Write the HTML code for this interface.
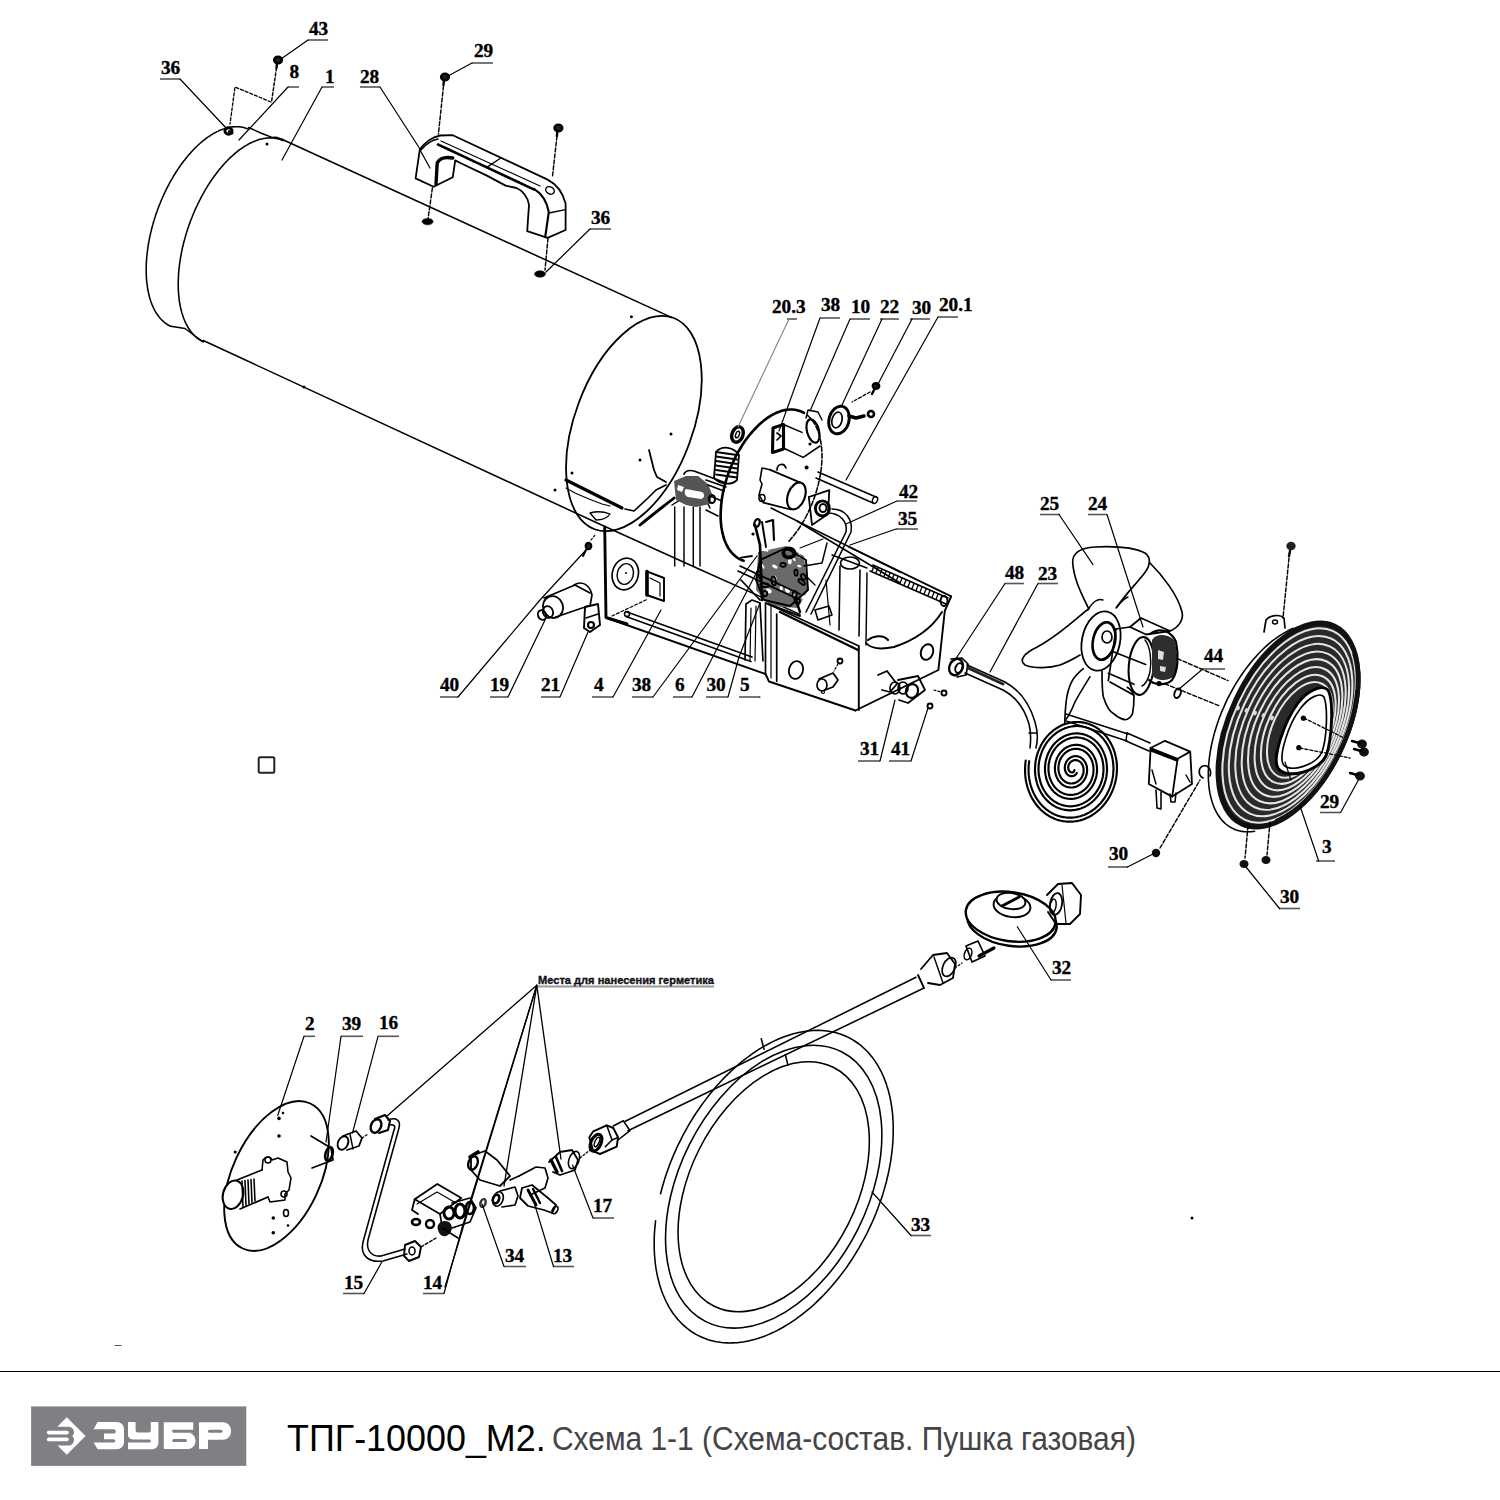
<!DOCTYPE html>
<html><head><meta charset="utf-8">
<style>
html,body{margin:0;padding:0;background:#fff;}
body{width:1500px;height:1500px;position:relative;overflow:hidden;font-family:"Liberation Sans",sans-serif;}
#hr{position:absolute;left:0;top:1370.5px;width:1500px;height:1.6px;background:#000;}
#title{position:absolute;left:288px;top:1415px;white-space:nowrap;}
#t1{position:absolute;left:-1px;top:1.5px;font-size:37.5px;color:#000;transform-origin:0 0;transform:scaleX(0.957);}
#t2{position:absolute;left:264px;top:5px;font-size:32.8px;color:#444;transform-origin:0 0;transform:scaleX(0.913);}
svg{position:absolute;left:0;top:0;}
</style></head><body>
<svg id="logo" width="1500" height="1500" viewBox="0 0 1500 1500">
  <rect x="31.1" y="1406.4" width="215.2" height="59.5" fill="#807f84"/>
  <g fill="#fff">
    <!-- diamond icon -->
    <path d="M66.8,1417.2 L85.6,1436 L66.8,1454.8 L56.8,1444.8 L56.8,1427.2 Z"/>
  </g>
  <path fill="#807f84" d="M50,1426.8 H68.8 C75,1426.8 75.3,1436 71.6,1436 C75.3,1436 75,1445.6 68.8,1445.6 H50 Z"/>
  <g fill="#fff">
    <rect x="46.8" y="1430.8" width="22" height="3.6" rx="1.8"/>
    <rect x="46.8" y="1437.6" width="22" height="3.6" rx="1.8"/>
    <!-- З -->
    <path d="M97.6,1422 H117 A7,7 0 0 1 124,1429 V1442.2 A7,7 0 0 1 117,1449.2 H97.6 L93.6,1442.4 V1429.2 Z"/>
    <!-- У -->
    <path d="M128.8,1422 H134.8 Q135.6,1422 135.6,1422.8 V1422 H150.8 H157.6 Q158.4,1422 158.4,1422.8 V1443 A6.2,6.2 0 0 1 152.2,1449.2 H128.8 Q128,1449.2 128,1448.4 V1422.8 Q128,1422 128.8,1422 Z"/>
    <!-- Б -->
    <path d="M164.6,1422.25 H193.25 V1432.75 H188 A7.5,7.5 0 0 1 195.5,1440.25 V1441.5 A7.5,7.5 0 0 1 188,1449 H164.6 Q163.75,1449 163.75,1448.2 V1423.1 Q163.75,1422.25 164.6,1422.25 Z"/>
    <!-- Р -->
    <path d="M199.8,1422.25 H223 A8,8 0 0 1 231,1430.25 V1431.75 A8,8 0 0 1 223,1439.75 H208 V1448.2 Q208,1449 207.2,1449 H199.8 Q199,1449 199,1448.2 V1423.1 Q199,1422.25 199.8,1422.25 Z"/>
  </g>
  <g fill="#807f84">
    <!-- З gaps -->
    <path d="M92,1429.2 H113.6 A2.2,2.2 0 0 1 113.6,1433.6 H104 V1439.2 H113.6 A1.6,1.6 0 0 1 113.6,1442.4 H92 Z"/>
    <!-- У gaps -->
    <path d="M135.6,1421 H150.8 V1430.4 Q150.8,1432.4 148.8,1432.4 H137.6 Q135.6,1432.4 135.6,1430.4 Z"/>
    <path d="M126,1439.6 H149.4 A1.4,1.4 0 0 1 149.4,1442.4 H126 Z"/>
    <path d="M127.5,1440 L127.5,1433.6 A6.2,6.2 0 0 0 133.7,1440 Z"/>
    <!-- Б gaps -->
    <path d="M172.25,1429.75 H197 V1432.75 H173.75 A1.5,1.5 0 0 1 172.25,1431.25 Z"/>
    <rect x="172.25" y="1439" width="14.75" height="3" rx="1.5"/>
    <!-- Р gap -->
    <rect x="208" y="1429.75" width="14.5" height="3" rx="1.5"/>
  </g>
</svg>
<svg id="dia" width="1500" height="1370" viewBox="0 0 1500 1370">
<g>
<ellipse cx="633.9" cy="423.5" rx="112.8" ry="58.9" transform="rotate(-69.6 633.9 423.5)" fill="none" stroke="#000" stroke-width="1.7999999999999998"/>
<polyline points="203.3,341.8 202.8,341.6 202.4,341.4 201.9,341.2 201.5,340.9 201.1,340.7 200.6,340.4 200.2,340.2 199.8,339.9 199.4,339.6 199,339.4 198.5,339.1 198.1,338.8 197.7,338.5 197.3,338.2 196.9,337.8 196.5,337.5 196.1,337.2 195.7,336.8 195.4,336.5 195,336.1 194.6,335.8 194.2,335.4 193.9,335 193.5,334.6 193.1,334.2 192.8,333.8 192.4,333.4 192.1,333 191.7,332.6 191.4,332.2 191,331.7 190.7,331.3 190.4,330.8 190,330.4 189.7,329.9 189.4,329.5 189.1,329 188.8,328.5 188.4,328 188.1,327.5 187.8,327 187.6,326.5 187.3,326 187,325.5 186.7,325 186.4,324.4 186.1,323.9 185.9,323.3 185.6,322.8 185.3,322.2 185.1,321.7 184.8,321.1 184.6,320.5 184.4,319.9 184.1,319.3 183.9,318.7 183.6,318.1 183.4,317.5 183.2,316.9 183,316.3 182.8,315.7 182.6,315.1 182.4,314.4 182.2,313.8 182,313.1 181.8,312.5 181.6,311.8 181.4,311.2 181.3,310.5 181.1,309.8 180.9,309.1 180.8,308.5 180.6,307.8 180.5,307.1 180.3,306.4 180.2,305.7 180,305 179.9,304.3 179.8,303.5 179.7,302.8 179.5,302.1 179.4,301.4 179.3,300.6 179.2,299.9 179.1,299.1 179,298.4 179,297.6 178.9,296.9 178.8,296.1 178.7,295.3 178.7,294.6 178.6,293.8 178.5,293 178.5,292.2 178.4,291.4 178.4,290.7 178.4,289.9 178.3,289.1 178.3,288.3 178.3,287.5 178.3,286.6 178.2,285.8 178.2,285 178.2,284.2 178.2,283.4 178.2,282.5 178.3,281.7 178.3,280.9 178.3,280 178.3,279.2 178.4,278.4 178.4,277.5 178.4,276.7 178.5,275.8 178.5,275 178.6,274.1 178.6,273.3 178.7,272.4 178.8,271.5 178.9,270.7 178.9,269.8 179,268.9 179.1,268.1 179.2,267.2 179.3,266.3 179.4,265.5 179.5,264.6 179.6,263.7 179.8,262.8 179.9,261.9 180,261 180.2,260.2 180.3,259.3 180.4,258.4 180.6,257.5 180.7,256.6 180.9,255.7 181.1,254.8 181.2,253.9 181.4,253 181.6,252.1 181.8,251.2 182,250.3 182.1,249.4 182.3,248.5 182.5,247.6 182.7,246.7 183,245.8 183.2,244.9 183.4,244 183.6,243.1 183.8,242.2 184.1,241.3 184.3,240.4 184.6,239.5 184.8,238.6 185.1,237.7 185.3,236.8 185.6,235.9 185.8,235 186.1,234.1 186.4,233.2 186.6,232.3 186.9,231.4 187.2,230.5 187.5,229.6 187.8,228.7 188.1,227.8 188.4,226.9 188.7,226 189,225.1 189.3,224.3 189.7,223.4 190,222.5 190.3,221.6 190.6,220.7 191,219.8 191.3,218.9 191.7,218.1 192,217.2 192.4,216.3 192.7,215.4 193.1,214.6 193.4,213.7 193.8,212.8 194.2,212 194.5,211.1 194.9,210.2 195.3,209.4 195.7,208.5 196.1,207.7 196.5,206.8 196.9,206 197.3,205.1 197.7,204.3 198.1,203.4 198.5,202.6 198.9,201.8 199.3,200.9 199.7,200.1 200.2,199.3 200.6,198.4 201,197.6 201.4,196.8 201.9,196 202.3,195.2 202.8,194.4 203.2,193.6 203.7,192.8 204.1,192 204.6,191.2 205,190.4 205.5,189.6 205.9,188.8 206.4,188.1 206.9,187.3 207.3,186.5 207.8,185.8 208.3,185 208.8,184.2 209.3,183.5 209.7,182.8 210.2,182 210.7,181.3 211.2,180.5 211.7,179.8 212.2,179.1 212.7,178.4 213.2,177.7 213.7,177 214.2,176.2 214.7,175.5 215.2,174.9 215.8,174.2 216.3,173.5 216.8,172.8 217.3,172.1 217.8,171.5 218.4,170.8 218.9,170.1 219.4,169.5 219.9,168.8 220.5,168.2 221,167.6 221.5,166.9 222.1,166.3 222.6,165.7 223.1,165.1 223.7,164.5 224.2,163.9 224.8,163.3 225.3,162.7 225.9,162.1 226.4,161.5 227,161 227.5,160.4 228.1,159.8 228.6,159.3 229.2,158.7 229.7,158.2 230.3,157.7 230.8,157.1 231.4,156.6 232,156.1 232.5,155.6 233.1,155.1 233.6,154.6 234.2,154.1 234.8,153.6 235.3,153.2 235.9,152.7 236.5,152.2 237,151.8 237.6,151.3 238.1,150.9 238.7,150.4 239.3,150 239.8,149.6 240.4,149.2 241,148.8 241.6,148.4 242.1,148 242.7,147.6 243.3,147.2 243.8,146.9 244.4,146.5 245,146.1 245.5,145.8 246.1,145.4 246.7,145.1 247.2,144.8 247.8,144.5 248.4,144.1 248.9,143.8 249.5,143.5 250.1,143.3 250.6,143 251.2,142.7 251.7,142.4 252.3,142.2 252.9,141.9 253.4,141.7 254,141.4 254.6,141.2 255.1,141 255.7,140.8 256.2,140.6 256.8,140.4 257.3,140.2 257.9,140 258.4,139.8 259,139.6 259.5,139.5 260.1,139.3 260.6,139.2 261.2,139 261.7,138.9 262.3,138.8 262.8,138.7 263.4,138.6 263.9,138.5 264.4,138.4 265,138.3 265.5,138.2 266,138.2 266.6,138.1 267.1,138.1 267.6,138 268.2,138 268.7,137.9 269.2,137.9 269.7,137.9 270.2,137.9 270.8,137.9 271.3,137.9 271.8,137.9 272.3,138 272.8,138 273.3,138 273.8,138.1 274.3,138.2 274.8,138.2 275.3,138.3 275.8,138.4 276.3,138.5 276.8,138.6 277.3,138.7 277.7,138.8 278.2,138.9 278.7,139 279.2,139.2 279.6,139.3 280.1,139.5 280.6,139.6 281,139.8 281.5,140 282,140.2 282.4,140.4 282.9,140.6" fill="none" stroke="#000" stroke-width="1.56" stroke-linejoin="round" stroke-linecap="round"/>
<polyline points="170.7,326.3 170.3,326.1 169.8,325.9 169.4,325.7 169,325.5 168.6,325.2 168.1,325 167.7,324.7 167.3,324.5 166.9,324.2 166.5,323.9 166.1,323.6 165.7,323.3 165.3,323 164.9,322.7 164.5,322.4 164.1,322.1 163.7,321.8 163.3,321.4 163,321.1 162.6,320.7 162.2,320.4 161.8,320 161.5,319.7 161.1,319.3 160.8,318.9 160.4,318.5 160.1,318.1 159.7,317.7 159.4,317.3 159,316.9 158.7,316.5 158.4,316 158.1,315.6 157.7,315.1 157.4,314.7 157.1,314.2 156.8,313.8 156.5,313.3 156.2,312.8 155.9,312.3 155.6,311.8 155.3,311.3 155,310.8 154.7,310.3 154.5,309.8 154.2,309.3 153.9,308.8 153.7,308.2 153.4,307.7 153.2,307.1 152.9,306.6 152.7,306 152.4,305.5 152.2,304.9 151.9,304.3 151.7,303.7 151.5,303.1 151.3,302.6 151.1,302 150.8,301.3 150.6,300.7 150.4,300.1 150.2,299.5 150,298.9 149.9,298.2 149.7,297.6 149.5,297 149.3,296.3 149.2,295.7 149,295 148.8,294.3 148.7,293.7 148.5,293 148.4,292.3 148.2,291.6 148.1,290.9 148,290.2 147.8,289.5 147.7,288.8 147.6,288.1 147.5,287.4 147.4,286.7 147.3,286 147.2,285.3 147.1,284.5 147,283.8 146.9,283.1 146.8,282.3 146.7,281.6 146.7,280.8 146.6,280.1 146.5,279.3 146.5,278.5 146.4,277.8 146.4,277 146.3,276.2 146.3,275.4 146.3,274.7 146.3,273.9 146.2,273.1 146.2,272.3 146.2,271.5 146.2,270.7 146.2,269.9 146.2,269.1 146.2,268.3 146.2,267.5 146.2,266.7 146.2,265.8 146.3,265 146.3,264.2 146.3,263.4 146.4,262.5 146.4,261.7 146.5,260.9 146.5,260 146.6,259.2 146.7,258.4 146.7,257.5 146.8,256.7 146.9,255.8 147,255 147.1,254.1 147.2,253.3 147.2,252.4 147.4,251.6 147.5,250.7 147.6,249.8 147.7,249 147.8,248.1 147.9,247.2 148.1,246.4 148.2,245.5 148.3,244.6 148.5,243.8 148.6,242.9 148.8,242 149,241.1 149.1,240.3 149.3,239.4 149.5,238.5 149.6,237.6 149.8,236.7 150,235.9 150.2,235 150.4,234.1 150.6,233.2 150.8,232.3 151,231.5 151.2,230.6 151.5,229.7 151.7,228.8 151.9,227.9 152.1,227 152.4,226.2 152.6,225.3 152.9,224.4 153.1,223.5 153.4,222.6 153.6,221.7 153.9,220.9 154.2,220 154.4,219.1 154.7,218.2 155,217.3 155.3,216.5 155.6,215.6 155.8,214.7 156.1,213.8 156.4,213 156.7,212.1 157.1,211.2 157.4,210.3 157.7,209.5 158,208.6 158.3,207.7 158.7,206.9 159,206 159.3,205.1 159.7,204.3 160,203.4 160.4,202.6 160.7,201.7 161.1,200.9 161.4,200 161.8,199.2 162.2,198.3 162.5,197.5 162.9,196.6 163.3,195.8 163.7,195 164,194.1 164.4,193.3 164.8,192.5 165.2,191.6 165.6,190.8 166,190 166.4,189.2 166.8,188.4 167.2,187.5 167.7,186.7 168.1,185.9 168.5,185.1 168.9,184.3 169.3,183.5 169.8,182.7 170.2,182 170.6,181.2 171.1,180.4 171.5,179.6 172,178.8 172.4,178.1 172.9,177.3 173.3,176.5 173.8,175.8 174.2,175 174.7,174.3 175.2,173.5 175.6,172.8 176.1,172 176.6,171.3 177,170.6 177.5,169.8 178,169.1 178.5,168.4 179,167.7 179.5,167 180,166.3 180.4,165.6 180.9,164.9 181.4,164.2 181.9,163.5 182.4,162.8 182.9,162.2 183.4,161.5 183.9,160.8 184.5,160.2 185,159.5 185.5,158.9 186,158.2 186.5,157.6 187,157 187.5,156.3 188.1,155.7 188.6,155.1 189.1,154.5 189.6,153.9 190.2,153.3 190.7,152.7 191.2,152.1 191.8,151.5 192.3,150.9 192.8,150.4 193.4,149.8 193.9,149.2 194.4,148.7 195,148.1 195.5,147.6 196.1,147.1 196.6,146.5 197.2,146 197.7,145.5 198.2,145 198.8,144.5 199.3,144 199.9,143.5 200.4,143 201,142.5 201.5,142.1 202.1,141.6 202.6,141.1 203.2,140.7 203.7,140.2 204.3,139.8 204.9,139.4 205.4,138.9 206,138.5 206.5,138.1 207.1,137.7 207.6,137.3 208.2,136.9 208.7,136.5 209.3,136.2 209.9,135.8 210.4,135.4 211,135.1 211.5,134.7 212.1,134.4 212.6,134 213.2,133.7 213.7,133.4 214.3,133.1 214.9,132.8 215.4,132.5 216,132.2 216.5,131.9 217.1,131.6 217.6,131.4 218.2,131.1 218.7,130.8 219.3,130.6 219.8,130.3 220.4,130.1 220.9,129.9 221.5,129.7 222,129.5 222.6,129.3 223.1,129.1 223.6,128.9 224.2,128.7 224.7,128.5 225.3,128.4 225.8,128.2 226.3,128.1 226.9,127.9 227.4,127.8 228,127.6 228.5,127.5 229,127.4 229.5,127.3 230.1,127.2 230.6,127.1 231.1,127 231.6,127 232.2,126.9 232.7,126.9 233.2,126.8 233.7,126.8 234.2,126.7 234.8,126.7 235.3,126.7 235.8,126.7 236.3,126.7 236.8,126.7 237.3,126.7 237.8,126.7 238.3,126.7 238.8,126.8 239.3,126.8 239.8,126.8 240.3,126.9 240.7,127 241.2,127 241.7,127.1 242.2,127.2 242.7,127.3 243.1,127.4 243.6,127.5 244.1,127.6 244.6,127.8 245,127.9 245.5,128 245.9,128.2 246.4,128.4 246.9,128.5 247.3,128.7 247.8,128.9 248.2,129.1 248.6,129.3" fill="none" stroke="#000" stroke-width="1.56" stroke-linejoin="round" stroke-linecap="round"/>
<polyline points="248.6,127.5 262,133.5 272,137.4 276,137.2 283,139.5" fill="none" stroke="#000" stroke-width="1.44" stroke-linejoin="round" stroke-linecap="round"/>
<polyline points="170.7,326.3 185,328.5 195,336 203.3,341.8" fill="none" stroke="#000" stroke-width="1.44" stroke-linejoin="round" stroke-linecap="round"/>
<line x1="283" y1="139.8" x2="672" y2="317.6" stroke="#000" stroke-width="1.56" stroke-linecap="round"/>
<polyline points="203.3,340.5 600,524.3 700,569.5 800,614.4" fill="none" stroke="#000" stroke-width="1.56" stroke-linejoin="round" stroke-linecap="round"/>
<circle cx="631.4" cy="316.7" r="1.5" fill="#000"/>
<circle cx="304" cy="387" r="1.5" fill="#000"/>
<circle cx="267" cy="144" r="1.5" fill="#000"/>
<circle cx="232" cy="133" r="1.5" fill="#000"/>
<circle cx="671" cy="434" r="1.5" fill="#000"/>
<circle cx="640" cy="460" r="1.5" fill="#000"/>
<circle cx="572" cy="473" r="1.5" fill="#000"/>
<circle cx="555" cy="490" r="1.5" fill="#000"/>
<circle cx="1192" cy="1218" r="1.5" fill="#000"/>
<polyline points="649,450 654,470 657,477 666,482" fill="none" stroke="#000" stroke-width="1.7999999999999998" stroke-linejoin="round" stroke-linecap="round"/>
<polyline points="566,480 622,508" fill="none" stroke="#000" stroke-width="3.12" stroke-linejoin="round" stroke-linecap="round"/>
<polyline points="625,509 634,511 648,498 656,490 666,485" fill="none" stroke="#000" stroke-width="1.68" stroke-linejoin="round" stroke-linecap="round"/>
<polyline points="566,488 575,493 589,499 602,504 610,506" fill="none" stroke="#000" stroke-width="1.2" stroke-linejoin="round" stroke-linecap="round"/>
<path d="M590,513 Q600,510 610,514 Q606,520 596,520 Z" fill="none" stroke="#000" stroke-width="1.32" stroke-linejoin="round" stroke-linecap="round"/>
<path d="M415.6,178.4 L419.8,149.6 C424,143 432,137 440,135.5 L452.8,135.2 L547.6,179.6 C556,184 563,193 565.6,203.6 L565.6,230 L547.6,237.8 L527.2,231.2 L529,204.8 C528,197 522,190 516.4,188 L505.6,185.6 L486.4,175.4 L462.4,164 L455.2,160.4 L452.8,177.2 L433.6,186.8 Z" fill="none" stroke="#000" stroke-width="1.7999999999999998" stroke-linejoin="round" stroke-linecap="round"/>
<path d="M436,184.4 L437.2,162.8 C440,158 444,156.5 452.8,158" fill="none" stroke="#000" stroke-width="3.36" stroke-linejoin="round" stroke-linecap="round"/>
<path d="M421,150 C426,144 432,140 438,139" fill="none" stroke="#000" stroke-width="1.44" stroke-linejoin="round" stroke-linecap="round"/>
<polyline points="438,144.5 534,189.5" fill="none" stroke="#000" stroke-width="2.64" stroke-dasharray="2,1.5" stroke-linejoin="round" stroke-linecap="round"/>
<polyline points="441,141 540,186" fill="none" stroke="#000" stroke-width="1.2" stroke-linejoin="round" stroke-linecap="round"/>
<line x1="486.4" y1="167.6" x2="500.8" y2="158" stroke="#000" stroke-width="1.44" stroke-linecap="round"/>
<ellipse cx="550" cy="190.4" rx="4.5" ry="3.5" transform="rotate(30 550 190.4)" fill="none" stroke="#000" stroke-width="1.44"/>
<path d="M534.4,189.2 C542,194 547,202 548.8,212 L545.2,237.2" fill="none" stroke="#000" stroke-width="2.16" stroke-linejoin="round" stroke-linecap="round"/>
<line x1="548.8" y1="213" x2="565.6" y2="209.6" stroke="#000" stroke-width="1.44" stroke-linecap="round"/>
<line x1="419.8" y1="149.6" x2="430" y2="168" stroke="#000" stroke-width="1.2" stroke-linecap="round"/>
<ellipse cx="278" cy="60" rx="3.8" ry="3.2" fill="#222" stroke="#000" stroke-width="2.64"/>
<polyline points="277,63 276.5,68" fill="none" stroke="#000" stroke-width="2.4" stroke-linejoin="round" stroke-linecap="round"/>
<ellipse cx="445" cy="77" rx="3.8" ry="3.2" fill="#222" stroke="#000" stroke-width="2.64"/>
<polyline points="444,80 443.5,85" fill="none" stroke="#000" stroke-width="2.4" stroke-linejoin="round" stroke-linecap="round"/>
<ellipse cx="558.4" cy="128" rx="3.8" ry="3.2" fill="#222" stroke="#000" stroke-width="2.64"/>
<polyline points="557.4,131 556.9,136" fill="none" stroke="#000" stroke-width="2.4" stroke-linejoin="round" stroke-linecap="round"/>
<polyline points="276.5,68 271.5,102" fill="none" stroke="#000" stroke-width="1.44" stroke-dasharray="3,2" stroke-linejoin="round" stroke-linecap="round"/>
<polyline points="271,102 235,87 230,124" fill="none" stroke="#000" stroke-width="1.32" stroke-dasharray="3,2" stroke-linejoin="round" stroke-linecap="round"/>
<polyline points="443.5,86 438.4,134" fill="none" stroke="#000" stroke-width="1.44" stroke-dasharray="4,2" stroke-linejoin="round" stroke-linecap="round"/>
<polyline points="557,136 552.4,177.2" fill="none" stroke="#000" stroke-width="1.44" stroke-dasharray="4,2" stroke-linejoin="round" stroke-linecap="round"/>
<polyline points="432.4,188 428,219" fill="none" stroke="#000" stroke-width="1.44" stroke-dasharray="4,2" stroke-linejoin="round" stroke-linecap="round"/>
<polyline points="548,238 545,270" fill="none" stroke="#000" stroke-width="1.44" stroke-dasharray="4,2" stroke-linejoin="round" stroke-linecap="round"/>
<ellipse cx="427.6" cy="221.6" rx="5.5" ry="3.2" fill="#000" stroke="#000" stroke-width="0.6"/>
<ellipse cx="540" cy="274" rx="5.5" ry="3.2" fill="#000" stroke="#000" stroke-width="0.6"/>
<ellipse cx="228.5" cy="131" rx="3.6" ry="3.2" fill="none" stroke="#000" stroke-width="2.88"/>
<circle cx="229.5" cy="131.5" r="1.6" fill="#000"/>
<line x1="160" y1="79" x2="180" y2="79" stroke="#555" stroke-width="1.6"/>
<polyline points="180,79 227,129" fill="none" stroke="#000" stroke-width="1.2" stroke-linejoin="round" stroke-linecap="round"/>
<line x1="308" y1="40" x2="328" y2="40" stroke="#555" stroke-width="1.6"/>
<polyline points="308,40 281,59" fill="none" stroke="#000" stroke-width="1.2" stroke-linejoin="round" stroke-linecap="round"/>
<line x1="288" y1="87" x2="299" y2="87" stroke="#555" stroke-width="1.6"/>
<polyline points="288,87 239,140" fill="none" stroke="#000" stroke-width="1.2" stroke-linejoin="round" stroke-linecap="round"/>
<line x1="322" y1="87" x2="334" y2="87" stroke="#555" stroke-width="1.6"/>
<polyline points="322,87 282,160" fill="none" stroke="#000" stroke-width="1.2" stroke-linejoin="round" stroke-linecap="round"/>
<line x1="360" y1="87" x2="380" y2="87" stroke="#555" stroke-width="1.6"/>
<polyline points="380,87 420,149" fill="none" stroke="#000" stroke-width="1.2" stroke-linejoin="round" stroke-linecap="round"/>
<line x1="472" y1="63" x2="493" y2="63" stroke="#555" stroke-width="1.6"/>
<polyline points="472,63 448,76" fill="none" stroke="#000" stroke-width="1.2" stroke-linejoin="round" stroke-linecap="round"/>
<line x1="590" y1="229" x2="611" y2="229" stroke="#555" stroke-width="1.6"/>
<polyline points="590,229 546,272" fill="none" stroke="#000" stroke-width="1.2" stroke-linejoin="round" stroke-linecap="round"/>
<polyline points="743.6,560.7 741.3,559.9 739.1,558.8 737,557.5 735.1,556 733.2,554.3 731.4,552.4 729.8,550.3 728.3,548 726.9,545.5 725.6,542.8 724.5,540 723.5,537 722.7,533.9 722,530.6 721.4,527.2 721,523.6 720.7,520 720.6,516.2 720.7,512.4 720.9,508.5 721.2,504.5 721.7,500.4 722.3,496.3 723.1,492.2 724,488.1 725.1,483.9 726.3,479.8 727.6,475.7 729.1,471.6 730.6,467.5 732.4,463.5 734.2,459.6 736.1,455.7 738.1,452 740.3,448.3 742.5,444.7 744.8,441.3 747.2,438 749.7,434.8 752.2,431.8 754.8,429 757.4,426.3 760.1,423.8 762.8,421.5 765.5,419.3 768.2,417.4 771,415.6 773.7,414.1 776.5,412.8 779.2,411.7 781.9,410.8 784.6,410.1 787.3,409.7 789.8,409.5 792.4,409.5 794.9,409.7 797.3,410.2 799.6,410.9 801.8,411.8 804,412.9" fill="none" stroke="#000" stroke-width="2.64" stroke-linejoin="round" stroke-linecap="round"/>
<polyline points="807.2,415.2 808.4,416.2 809.5,417.3 810.6,418.4 811.7,419.7 812.7,421 813.6,422.3 814.6,423.8 815.4,425.3 816.2,426.9 817,428.6 817.7,430.3 818.3,432.1 819,433.9 819.5,435.8 820,437.8 820.4,439.8 820.8,441.8 821.2,444 821.4,446.1 821.7,448.3 821.8,450.6 821.9,452.8 822,455.2 822,457.5 821.9,459.9 821.8,462.3 821.6,464.7 821.4,467.2 821.1,469.7 820.7,472.2 820.3,474.7 819.9,477.2 819.4,479.8 818.8,482.3 818.2,484.9 817.5,487.4 816.8,490 816,492.5 815.2,495.1 814.4,497.6 813.4,500.1 812.5,502.6 811.5,505.1 810.4,507.5 809.3,509.9 808.2,512.4 807,514.7 805.8,517.1 804.5,519.4 803.2,521.6 801.9,523.9 800.5,526.1 799.1,528.2 797.7,530.3 796.2,532.3 794.7,534.3 793.2,536.3 791.6,538.1 790.1,540 788.5,541.7" fill="none" stroke="#000" stroke-width="1.56" stroke-dasharray="5,2" stroke-linejoin="round" stroke-linecap="round"/>
<path d="M716,452 C722,445 734,447 739,455 L737,480 C731,486 720,484 714,478 Z" fill="none" stroke="#000" stroke-width="1.7999999999999998" stroke-linejoin="round" stroke-linecap="round"/>
<line x1="716" y1="452" x2="737" y2="455" stroke="#000" stroke-width="1.92" stroke-linecap="round"/>
<line x1="716" y1="456.5" x2="737" y2="459.5" stroke="#000" stroke-width="1.92" stroke-linecap="round"/>
<line x1="716" y1="461" x2="737" y2="464" stroke="#000" stroke-width="1.92" stroke-linecap="round"/>
<line x1="716" y1="465.5" x2="737" y2="468.5" stroke="#000" stroke-width="1.92" stroke-linecap="round"/>
<line x1="716" y1="470" x2="737" y2="473" stroke="#000" stroke-width="1.92" stroke-linecap="round"/>
<line x1="716" y1="474.5" x2="737" y2="477.5" stroke="#000" stroke-width="1.92" stroke-linecap="round"/>
<ellipse cx="737.5" cy="434.5" rx="5.5" ry="8" transform="rotate(20 737.5 434.5)" fill="none" stroke="#000" stroke-width="3.36"/>
<ellipse cx="737.5" cy="434.5" rx="1.8" ry="3.5" transform="rotate(20 737.5 434.5)" fill="none" stroke="#000" stroke-width="1.44"/>
<polyline points="773,428 783.5,424.5 783.5,449 772.5,452.5 773,428" fill="none" stroke="#000" stroke-width="3.12" stroke-linejoin="round" stroke-linecap="round"/>
<polyline points="777,433 781,436 777,440" fill="none" stroke="#000" stroke-width="1.68" stroke-linejoin="round" stroke-linecap="round"/>
<polyline points="783.5,424.5 802,432.4" fill="none" stroke="#000" stroke-width="1.56" stroke-linejoin="round" stroke-linecap="round"/>
<polyline points="783.9,448.3 803.2,457.4 820,446" fill="none" stroke="#000" stroke-width="1.56" stroke-linejoin="round" stroke-linecap="round"/>
<ellipse cx="813" cy="431" rx="6" ry="12" transform="rotate(-15 813 431)" fill="none" stroke="#000" stroke-width="2.16"/>
<polyline points="806,418 808,410 818,412 822,420" fill="none" stroke="#000" stroke-width="1.44" stroke-linejoin="round" stroke-linecap="round"/>
<circle cx="810" cy="444" r="1.6" fill="#000"/>
<ellipse cx="839" cy="420" rx="10" ry="14" transform="rotate(15 839 420)" fill="none" stroke="#000" stroke-width="2.88"/>
<ellipse cx="837" cy="420" rx="5" ry="8" transform="rotate(15 837 420)" fill="none" stroke="#000" stroke-width="1.68"/>
<polyline points="849,416 856,418 864,416" fill="none" stroke="#000" stroke-width="3.5999999999999996" stroke-linejoin="round" stroke-linecap="round"/>
<ellipse cx="876" cy="386" rx="3.2" ry="2.8" fill="#222" stroke="#000" stroke-width="2.4"/>
<polyline points="874,390 872,394" fill="none" stroke="#000" stroke-width="2.4" stroke-linejoin="round" stroke-linecap="round"/>
<polyline points="870,392 852,402" fill="none" stroke="#000" stroke-width="1.32" stroke-dasharray="3,2" stroke-linejoin="round" stroke-linecap="round"/>
<ellipse cx="871" cy="414" rx="3" ry="3" fill="none" stroke="#000" stroke-width="2.64"/>
<polyline points="770.3,469.8 799.8,482.3" fill="none" stroke="#000" stroke-width="1.7999999999999998" stroke-linejoin="round" stroke-linecap="round"/>
<polyline points="763.5,502.7 790.7,509.5" fill="none" stroke="#000" stroke-width="1.7999999999999998" stroke-linejoin="round" stroke-linecap="round"/>
<polyline points="770.3,469.8 762,468 760,480 762,484 759,495 763.5,502.7" fill="none" stroke="#000" stroke-width="1.56" stroke-linejoin="round" stroke-linecap="round"/>
<ellipse cx="796.4" cy="495.9" rx="8.5" ry="14" transform="rotate(20 796.4 495.9)" fill="none" stroke="#000" stroke-width="2.16"/>
<path d="M777,470 C777,464 784,462 786,468" fill="none" stroke="#000" stroke-width="1.68" stroke-linejoin="round" stroke-linecap="round"/>
<ellipse cx="762" cy="498" rx="3" ry="3.5" fill="none" stroke="#000" stroke-width="1.56"/>
<circle cx="806.6" cy="467.6" r="2" fill="#000"/>
<polyline points="818,472 876,497" fill="none" stroke="#000" stroke-width="1.56" stroke-linejoin="round" stroke-linecap="round"/>
<polyline points="816,478 873,503" fill="none" stroke="#000" stroke-width="1.56" stroke-linejoin="round" stroke-linecap="round"/>
<ellipse cx="875" cy="500" rx="2.5" ry="3.5" transform="rotate(20 875 500)" fill="none" stroke="#000" stroke-width="1.44"/>
<polyline points="808.8,497 829.3,490.2 828,514 812,525 808.8,497" fill="none" stroke="#000" stroke-width="1.7999999999999998" stroke-linejoin="round" stroke-linecap="round"/>
<ellipse cx="822.4" cy="508.4" rx="7" ry="7.5" fill="none" stroke="#000" stroke-width="2.88"/>
<ellipse cx="823" cy="508" rx="3.5" ry="4" fill="none" stroke="#000" stroke-width="1.92"/>
<path d="M828,513 C840,513 848,522 846,532 L806,612" fill="none" stroke="#000" stroke-width="1.56" stroke-linejoin="round" stroke-linecap="round"/>
<path d="M832,509 C846,509 853,520 851,532 L811,614" fill="none" stroke="#000" stroke-width="1.56" stroke-linejoin="round" stroke-linecap="round"/>
<polyline points="604.7,527 606,617.5 627,624" fill="none" stroke="#000" stroke-width="2.88" stroke-linejoin="round" stroke-linecap="round"/>
<polyline points="606.8,618 765.5,674 769,681.5 855.5,710.5" fill="none" stroke="#000" stroke-width="1.92" stroke-linejoin="round" stroke-linecap="round"/>
<polyline points="627,612 752,657" fill="none" stroke="#000" stroke-width="1.68" stroke-linejoin="round" stroke-linecap="round"/>
<polyline points="626,616.5 751,661.5" fill="none" stroke="#000" stroke-width="1.68" stroke-linejoin="round" stroke-linecap="round"/>
<ellipse cx="627" cy="614" rx="2.5" ry="2.5" fill="none" stroke="#000" stroke-width="1.44"/>
<polyline points="745,660 746,604 752,600 760,603 763,661" fill="none" stroke="#000" stroke-width="1.68" stroke-linejoin="round" stroke-linecap="round"/>
<polyline points="750,660 751,608" fill="none" stroke="#000" stroke-width="1.2" stroke-linejoin="round" stroke-linecap="round"/>
<polyline points="755,661 756,606" fill="none" stroke="#000" stroke-width="1.2" stroke-linejoin="round" stroke-linecap="round"/>
<polyline points="765.5,603 765.5,674" fill="none" stroke="#000" stroke-width="1.68" stroke-linejoin="round" stroke-linecap="round"/>
<polyline points="776.7,614 776.7,681.3" fill="none" stroke="#000" stroke-width="1.68" stroke-linejoin="round" stroke-linecap="round"/>
<polyline points="766,603 776.7,608 858.8,646" fill="none" stroke="#000" stroke-width="1.68" stroke-linejoin="round" stroke-linecap="round"/>
<polyline points="780,612 858,650" fill="none" stroke="#000" stroke-width="2.4" stroke-linejoin="round" stroke-linecap="round"/>
<polyline points="771,606 771,678" fill="none" stroke="#000" stroke-width="1.2" stroke-linejoin="round" stroke-linecap="round"/>
<polyline points="858.8,646 858.8,710" fill="none" stroke="#000" stroke-width="1.92" stroke-linejoin="round" stroke-linecap="round"/>
<polyline points="855.5,710.5 938.4,670 944.8,610.8 951.2,596.4" fill="none" stroke="#000" stroke-width="1.92" stroke-linejoin="round" stroke-linecap="round"/>
<polyline points="848.8,546.8 951.2,596.4" fill="none" stroke="#000" stroke-width="1.7999999999999998" stroke-linejoin="round" stroke-linecap="round"/>
<polyline points="872.8,565 948,598" fill="none" stroke="#000" stroke-width="1.56" stroke-linejoin="round" stroke-linecap="round"/>
<polyline points="870,571 946,604" fill="none" stroke="#000" stroke-width="1.56" stroke-linejoin="round" stroke-linecap="round"/>
<line x1="874" y1="566" x2="872" y2="571" stroke="#000" stroke-width="1.32" stroke-linecap="round"/>
<line x1="878" y1="567.8" x2="876" y2="572.8" stroke="#000" stroke-width="1.32" stroke-linecap="round"/>
<line x1="882" y1="569.5" x2="880" y2="574.5" stroke="#000" stroke-width="1.32" stroke-linecap="round"/>
<line x1="886" y1="571.3" x2="884" y2="576.3" stroke="#000" stroke-width="1.32" stroke-linecap="round"/>
<line x1="890" y1="573" x2="888" y2="578" stroke="#000" stroke-width="1.32" stroke-linecap="round"/>
<line x1="894" y1="574.8" x2="892" y2="579.8" stroke="#000" stroke-width="1.32" stroke-linecap="round"/>
<line x1="898" y1="576.6" x2="896" y2="581.6" stroke="#000" stroke-width="1.32" stroke-linecap="round"/>
<line x1="902" y1="578.3" x2="900" y2="583.3" stroke="#000" stroke-width="1.32" stroke-linecap="round"/>
<line x1="906" y1="580.1" x2="904" y2="585.1" stroke="#000" stroke-width="1.32" stroke-linecap="round"/>
<line x1="910" y1="581.8" x2="908" y2="586.8" stroke="#000" stroke-width="1.32" stroke-linecap="round"/>
<line x1="914" y1="583.6" x2="912" y2="588.6" stroke="#000" stroke-width="1.32" stroke-linecap="round"/>
<line x1="918" y1="585.4" x2="916" y2="590.4" stroke="#000" stroke-width="1.32" stroke-linecap="round"/>
<line x1="922" y1="587.1" x2="920" y2="592.1" stroke="#000" stroke-width="1.32" stroke-linecap="round"/>
<line x1="926" y1="588.9" x2="924" y2="593.9" stroke="#000" stroke-width="1.32" stroke-linecap="round"/>
<line x1="930" y1="590.6" x2="928" y2="595.6" stroke="#000" stroke-width="1.32" stroke-linecap="round"/>
<line x1="934" y1="592.4" x2="932" y2="597.4" stroke="#000" stroke-width="1.32" stroke-linecap="round"/>
<line x1="938" y1="594.2" x2="936" y2="599.2" stroke="#000" stroke-width="1.32" stroke-linecap="round"/>
<line x1="942" y1="595.9" x2="940" y2="600.9" stroke="#000" stroke-width="1.32" stroke-linecap="round"/>
<ellipse cx="944" cy="601" rx="3.5" ry="5" fill="none" stroke="#000" stroke-width="1.92"/>
<path d="M866,643 C872,650 884,649 894,647 C915,640 932,628 942,612" fill="none" stroke="#000" stroke-width="1.92" stroke-linejoin="round" stroke-linecap="round"/>
<path d="M868,640 C873,636 883,634 888,640" fill="none" stroke="#000" stroke-width="2.16" stroke-linejoin="round" stroke-linecap="round"/>
<polyline points="839,630 840,566" fill="none" stroke="#000" stroke-width="1.56" stroke-linejoin="round" stroke-linecap="round"/>
<polyline points="859,636 860,570" fill="none" stroke="#000" stroke-width="1.56" stroke-linejoin="round" stroke-linecap="round"/>
<ellipse cx="850" cy="563" rx="9.5" ry="6" fill="none" stroke="#000" stroke-width="1.68"/>
<polyline points="826,580 830,625" fill="none" stroke="#000" stroke-width="1.2" stroke-linejoin="round" stroke-linecap="round"/>
<polyline points="867,573 866,645" fill="none" stroke="#000" stroke-width="1.44" stroke-linejoin="round" stroke-linecap="round"/>
<polyline points="832,555 867,568" fill="none" stroke="#000" stroke-width="1.44" stroke-linejoin="round" stroke-linecap="round"/>
<polyline points="815,610 829,606 832,615 818,620 815,610" fill="none" stroke="#000" stroke-width="1.56" stroke-linejoin="round" stroke-linecap="round"/>
<ellipse cx="927" cy="652" rx="6" ry="8" transform="rotate(20 927 652)" fill="none" stroke="#000" stroke-width="1.92"/>
<ellipse cx="796" cy="670" rx="7" ry="9" transform="rotate(15 796 670)" fill="none" stroke="#000" stroke-width="1.7999999999999998"/>
<ellipse cx="625.3" cy="574" rx="13" ry="16" transform="rotate(15 625.3 574)" fill="none" stroke="#000" stroke-width="1.68"/>
<ellipse cx="625.3" cy="574" rx="8" ry="10.5" transform="rotate(15 625.3 574)" fill="none" stroke="#000" stroke-width="1.44"/>
<circle cx="626" cy="573" r="1" fill="#000"/>
<polyline points="646.7,571.3 664,578 664,601 646.7,595 646.7,571.3" fill="none" stroke="#000" stroke-width="1.92" stroke-linejoin="round" stroke-linecap="round"/>
<polyline points="647,571.5 647,595" fill="none" stroke="#000" stroke-width="3.5999999999999996" stroke-linejoin="round" stroke-linecap="round"/>
<polyline points="650,578 660,583 660,596" fill="none" stroke="#000" stroke-width="1.2" stroke-linejoin="round" stroke-linecap="round"/>
<polyline points="612,616 648,599" fill="none" stroke="#000" stroke-width="1.2" stroke-dasharray="3,2" stroke-linejoin="round" stroke-linecap="round"/>
<line x1="674.7" y1="507" x2="674.7" y2="566" stroke="#000" stroke-width="1.44" stroke-linecap="round"/>
<line x1="684" y1="507" x2="684" y2="566" stroke="#000" stroke-width="1.44" stroke-linecap="round"/>
<line x1="693.3" y1="507" x2="693.3" y2="566" stroke="#000" stroke-width="1.44" stroke-linecap="round"/>
<line x1="700" y1="507" x2="700" y2="566" stroke="#000" stroke-width="1.44" stroke-linecap="round"/>
<polyline points="672,505 690,494 704,496 710,508" fill="none" stroke="#000" stroke-width="1.44" stroke-linejoin="round" stroke-linecap="round"/>
<path d="M684,474 C686,470 690,470 694,471 L726,483" fill="none" stroke="#000" stroke-width="1.68" stroke-linejoin="round" stroke-linecap="round"/>
<path d="M674,481 L686,476 L698,476 L708,484 L712,494 L710,504 L696,507 L686,505 L676,500 Z" fill="#555"/>
<path d="M686,489 L702,492 C705,494 705,498 701,499 L688,497 C684,496 684,490 686,489 Z" fill="#fff"/>
<path d="M678,485 L684,487 L682,492 L677,490 Z" fill="#fff"/>
<polyline points="706,480 726,487" fill="none" stroke="#000" stroke-width="1.68" stroke-linejoin="round" stroke-linecap="round"/>
<polyline points="708,485 724,491" fill="none" stroke="#000" stroke-width="1.68" stroke-linejoin="round" stroke-linecap="round"/>
<polyline points="710,496 722,501" fill="none" stroke="#000" stroke-width="1.44" stroke-linejoin="round" stroke-linecap="round"/>
<polyline points="706,510 718,516" fill="none" stroke="#000" stroke-width="1.56" stroke-linejoin="round" stroke-linecap="round"/>
<ellipse cx="712" cy="499" rx="3" ry="4" fill="none" stroke="#000" stroke-width="2.16"/>
<path d="M640,525 C652,515 664,506 674,498" fill="none" stroke="#000" stroke-width="2.88" stroke-linejoin="round" stroke-linecap="round"/>
<ellipse cx="553" cy="607" rx="10" ry="11" transform="rotate(-20 553 607)" fill="none" stroke="#000" stroke-width="1.7999999999999998"/>
<ellipse cx="548" cy="612" rx="5" ry="6" transform="rotate(-20 548 612)" fill="none" stroke="#000" stroke-width="1.7999999999999998"/>
<polyline points="544,598 575,585 590,593" fill="none" stroke="#000" stroke-width="1.68" stroke-linejoin="round" stroke-linecap="round"/>
<polyline points="553,618 588,606" fill="none" stroke="#000" stroke-width="1.68" stroke-linejoin="round" stroke-linecap="round"/>
<path d="M574,585 C582,580 590,585 592,595 L590,606" fill="none" stroke="#000" stroke-width="1.68" stroke-linejoin="round" stroke-linecap="round"/>
<ellipse cx="542" cy="615" rx="4" ry="5" transform="rotate(-20 542 615)" fill="none" stroke="#000" stroke-width="1.92"/>
<polyline points="585,607 598,604 600,625 590,632 584,628 585,607" fill="none" stroke="#000" stroke-width="1.92" stroke-linejoin="round" stroke-linecap="round"/>
<polyline points="586,618 598,614" fill="none" stroke="#000" stroke-width="1.44" stroke-linejoin="round" stroke-linecap="round"/>
<ellipse cx="591" cy="625" rx="3" ry="3" fill="none" stroke="#000" stroke-width="2.16"/>
<ellipse cx="588.5" cy="546" rx="2.8" ry="3.2" fill="#222" stroke="#000" stroke-width="2.16"/>
<polyline points="586,550 583,556" fill="none" stroke="#000" stroke-width="1.92" stroke-linejoin="round" stroke-linecap="round"/>
<polyline points="591,540 595,535" fill="none" stroke="#000" stroke-width="1.2" stroke-dasharray="2,2" stroke-linejoin="round" stroke-linecap="round"/>
<polyline points="878,675 887,671 897,684 890,692 882,690" fill="none" stroke="#000" stroke-width="1.7999999999999998" stroke-linejoin="round" stroke-linecap="round"/>
<ellipse cx="895" cy="688" rx="5" ry="6" fill="none" stroke="#000" stroke-width="1.68"/>
<ellipse cx="903" cy="688" rx="5" ry="6" fill="none" stroke="#000" stroke-width="1.68"/>
<polyline points="898,680 918,676 925,690 908,703 899,700" fill="none" stroke="#000" stroke-width="1.7999999999999998" stroke-linejoin="round" stroke-linecap="round"/>
<ellipse cx="912" cy="691" rx="6" ry="7" transform="rotate(20 912 691)" fill="none" stroke="#000" stroke-width="2.16"/>
<ellipse cx="944" cy="693" rx="2.5" ry="2.5" fill="none" stroke="#000" stroke-width="1.92"/>
<polyline points="934,690 941,692" fill="none" stroke="#000" stroke-width="1.2" stroke-dasharray="2,2" stroke-linejoin="round" stroke-linecap="round"/>
<ellipse cx="930" cy="706" rx="2.5" ry="2.5" fill="none" stroke="#000" stroke-width="1.92"/>
<ellipse cx="822" cy="685" rx="5" ry="6" fill="none" stroke="#000" stroke-width="1.68"/>
<polyline points="819,679 833,673 838,680 833,687 825,690" fill="none" stroke="#000" stroke-width="1.7999999999999998" stroke-linejoin="round" stroke-linecap="round"/>
<ellipse cx="823" cy="692" rx="1.5" ry="1.5" fill="none" stroke="#000" stroke-width="1.2"/>
<ellipse cx="840" cy="661" rx="2.5" ry="2.5" fill="none" stroke="#000" stroke-width="1.7999999999999998"/>
<polyline points="838,664 834,671" fill="none" stroke="#000" stroke-width="1.2" stroke-dasharray="2,2" stroke-linejoin="round" stroke-linecap="round"/>
<path d="M758,552 L786,546 L804,556 L808,590 L798,608 L770,606 L756,590 Z" fill="#6a6a6a"/>
<g fill="#fff">
<ellipse cx="787.4" cy="590.1" rx="2.9" ry="2.2" transform="rotate(67 787.4 590.1)"/>
<ellipse cx="800.6" cy="551.6" rx="2.3" ry="2.2" transform="rotate(58 800.6 551.6)"/>
<ellipse cx="799.6" cy="556.1" rx="2.3" ry="1.3" transform="rotate(49 799.6 556.1)"/>
<ellipse cx="785.3" cy="550.7" rx="1.9" ry="1.4" transform="rotate(82 785.3 550.7)"/>
<ellipse cx="793.7" cy="558.6" rx="2.9" ry="1.2" transform="rotate(56 793.7 558.6)"/>
<ellipse cx="765.6" cy="550.1" rx="3.1" ry="1.3" transform="rotate(19 765.6 550.1)"/>
<ellipse cx="803.2" cy="597.1" rx="2.0" ry="2.2" transform="rotate(49 803.2 597.1)"/>
<ellipse cx="789.8" cy="561.1" rx="3.2" ry="1.9" transform="rotate(87 789.8 561.1)"/>
<ellipse cx="799.3" cy="566.1" rx="2.2" ry="1.2" transform="rotate(13 799.3 566.1)"/>
<ellipse cx="762.9" cy="566.3" rx="2.6" ry="1.0" transform="rotate(61 762.9 566.3)"/>
<ellipse cx="774.9" cy="566.7" rx="3.0" ry="1.6" transform="rotate(28 774.9 566.7)"/>
<ellipse cx="781.2" cy="588.1" rx="1.6" ry="2.3" transform="rotate(2 781.2 588.1)"/>
<ellipse cx="793.0" cy="595.6" rx="1.5" ry="2.0" transform="rotate(33 793.0 595.6)"/>
<ellipse cx="785.5" cy="550.5" rx="1.6" ry="1.2" transform="rotate(86 785.5 550.5)"/>
<ellipse cx="768.6" cy="590.8" rx="3.2" ry="2.2" transform="rotate(31 768.6 590.8)"/>
<ellipse cx="775.6" cy="578.3" rx="2.9" ry="1.1" transform="rotate(67 775.6 578.3)"/>
</g>
<ellipse cx="794.7" cy="594.4" rx="2.1" ry="3.4" transform="rotate(8.2 794.7 594.4)" fill="none" stroke="#000" stroke-width="1.7999999999999998"/>
<ellipse cx="773.7" cy="581" rx="4.3" ry="2.2" transform="rotate(83.2 773.7 581)" fill="none" stroke="#000" stroke-width="1.7999999999999998"/>
<ellipse cx="783.1" cy="564.9" rx="2.8" ry="1.9" transform="rotate(7 783.1 564.9)" fill="none" stroke="#000" stroke-width="1.7999999999999998"/>
<ellipse cx="764.8" cy="585.2" rx="4.5" ry="1.8" transform="rotate(4.4 764.8 585.2)" fill="none" stroke="#000" stroke-width="1.7999999999999998"/>
<ellipse cx="803.4" cy="576.8" rx="3" ry="2" transform="rotate(53.5 803.4 576.8)" fill="none" stroke="#000" stroke-width="1.7999999999999998"/>
<ellipse cx="796" cy="572.6" rx="3.1" ry="1.6" transform="rotate(82.4 796 572.6)" fill="none" stroke="#000" stroke-width="1.7999999999999998"/>
<ellipse cx="759.5" cy="574.7" rx="4.1" ry="1.8" transform="rotate(65.8 759.5 574.7)" fill="none" stroke="#000" stroke-width="1.7999999999999998"/>
<ellipse cx="801.7" cy="582" rx="4" ry="1.7" transform="rotate(39.1 801.7 582)" fill="none" stroke="#000" stroke-width="1.7999999999999998"/>
<ellipse cx="764.9" cy="593.6" rx="2.7" ry="2.4" transform="rotate(89.9 764.9 593.6)" fill="none" stroke="#000" stroke-width="1.7999999999999998"/>
<ellipse cx="797.2" cy="600.7" rx="3.1" ry="2.5" transform="rotate(65.7 797.2 600.7)" fill="none" stroke="#000" stroke-width="1.7999999999999998"/>
<polyline points="760,560 786,548 806,560 808,590 790,606 764,600 756,580 760,560" fill="none" stroke="#000" stroke-width="1.92" stroke-linejoin="round" stroke-linecap="round"/>
<ellipse cx="789" cy="553" rx="5.5" ry="4.5" fill="none" stroke="#000" stroke-width="3.84"/>
<polyline points="755,525 760,545 762,600" fill="none" stroke="#000" stroke-width="2.64" stroke-linejoin="round" stroke-linecap="round"/>
<polyline points="762,522 766,547" fill="none" stroke="#000" stroke-width="1.92" stroke-linejoin="round" stroke-linecap="round"/>
<polyline points="766,522 773,520 774,540" fill="none" stroke="#000" stroke-width="2.16" stroke-linejoin="round" stroke-linecap="round"/>
<ellipse cx="757" cy="523" rx="2.5" ry="4" transform="rotate(20 757 523)" fill="none" stroke="#000" stroke-width="2.16"/>
<circle cx="753" cy="534" r="1.6" fill="#000"/>
<polyline points="740,566 800,594" fill="none" stroke="#000" stroke-width="1.68" stroke-linejoin="round" stroke-linecap="round"/>
<polyline points="738,571 798,599" fill="none" stroke="#000" stroke-width="1.68" stroke-linejoin="round" stroke-linecap="round"/>
<polyline points="741,580 760,600" fill="none" stroke="#000" stroke-width="1.7999999999999998" stroke-linejoin="round" stroke-linecap="round"/>
<polyline points="796,600 800,612" fill="none" stroke="#000" stroke-width="2.4" stroke-linejoin="round" stroke-linecap="round"/>
<polyline points="768,604 800,616" fill="none" stroke="#000" stroke-width="1.92" stroke-linejoin="round" stroke-linecap="round"/>
<polyline points="800,548 823,539" fill="none" stroke="#000" stroke-width="1.2" stroke-linejoin="round" stroke-linecap="round"/>
<polyline points="804,566 822,563 827,543" fill="none" stroke="#000" stroke-width="1.44" stroke-linejoin="round" stroke-linecap="round"/>
<polyline points="808,578 815,585" fill="none" stroke="#000" stroke-width="1.44" stroke-linejoin="round" stroke-linecap="round"/>
<polyline points="771,508 900,572" fill="none" stroke="#000" stroke-width="1.56" stroke-linejoin="round" stroke-linecap="round"/>
<polyline points="797,521 900,583" fill="none" stroke="#000" stroke-width="1.56" stroke-linejoin="round" stroke-linecap="round"/>
<polyline points="741,557.6 752,556" fill="none" stroke="#000" stroke-width="1.7999999999999998" stroke-linejoin="round" stroke-linecap="round"/>
<line x1="787" y1="319" x2="797" y2="319" stroke="#555" stroke-width="1.6"/>
<polyline points="789,319 738,427" fill="none" stroke="#888" stroke-width="1.2" stroke-linejoin="round" stroke-linecap="round"/>
<line x1="820" y1="318" x2="840" y2="318" stroke="#555" stroke-width="1.6"/>
<polyline points="820,318 779,431" fill="none" stroke="#000" stroke-width="1.2" stroke-linejoin="round" stroke-linecap="round"/>
<line x1="850" y1="319" x2="870" y2="319" stroke="#555" stroke-width="1.6"/>
<polyline points="850,319 810,411" fill="none" stroke="#000" stroke-width="1.2" stroke-linejoin="round" stroke-linecap="round"/>
<line x1="880" y1="319" x2="899" y2="319" stroke="#555" stroke-width="1.6"/>
<polyline points="882,319 842,405" fill="none" stroke="#000" stroke-width="1.2" stroke-linejoin="round" stroke-linecap="round"/>
<line x1="910" y1="319" x2="930" y2="319" stroke="#555" stroke-width="1.6"/>
<polyline points="912,319 877,386" fill="none" stroke="#000" stroke-width="1.2" stroke-linejoin="round" stroke-linecap="round"/>
<line x1="938" y1="317" x2="958" y2="317" stroke="#555" stroke-width="1.6"/>
<polyline points="938,317 846,480" fill="none" stroke="#000" stroke-width="1.2" stroke-linejoin="round" stroke-linecap="round"/>
<line x1="897" y1="501" x2="917" y2="501" stroke="#555" stroke-width="1.6"/>
<polyline points="897,501 846,524" fill="none" stroke="#000" stroke-width="1.2" stroke-linejoin="round" stroke-linecap="round"/>
<line x1="896" y1="529" x2="918" y2="529" stroke="#555" stroke-width="1.6"/>
<polyline points="896,529 850,545" fill="none" stroke="#000" stroke-width="1.2" stroke-linejoin="round" stroke-linecap="round"/>
<line x1="440" y1="697" x2="458" y2="697" stroke="#555" stroke-width="1.6"/>
<polyline points="458,697 540,600 586,550" fill="none" stroke="#000" stroke-width="1.2" stroke-linejoin="round" stroke-linecap="round"/>
<line x1="490" y1="697" x2="508" y2="697" stroke="#555" stroke-width="1.6"/>
<polyline points="508,697 546,618" fill="none" stroke="#000" stroke-width="1.2" stroke-linejoin="round" stroke-linecap="round"/>
<line x1="541" y1="697" x2="560" y2="697" stroke="#555" stroke-width="1.6"/>
<polyline points="560,697 588,632" fill="none" stroke="#000" stroke-width="1.2" stroke-linejoin="round" stroke-linecap="round"/>
<line x1="592" y1="697" x2="613" y2="697" stroke="#555" stroke-width="1.6"/>
<polyline points="613,697 661,610" fill="none" stroke="#000" stroke-width="1.2" stroke-linejoin="round" stroke-linecap="round"/>
<line x1="632" y1="697" x2="653" y2="697" stroke="#555" stroke-width="1.6"/>
<polyline points="653,697 757,556" fill="none" stroke="#000" stroke-width="1.2" stroke-linejoin="round" stroke-linecap="round"/>
<line x1="673" y1="697" x2="692" y2="697" stroke="#555" stroke-width="1.6"/>
<polyline points="692,697 762,562" fill="none" stroke="#000" stroke-width="1.2" stroke-linejoin="round" stroke-linecap="round"/>
<line x1="706" y1="697" x2="728" y2="697" stroke="#555" stroke-width="1.6"/>
<polyline points="728,697 739,657 760,603" fill="none" stroke="#000" stroke-width="1.2" stroke-linejoin="round" stroke-linecap="round"/>
<line x1="739" y1="697" x2="760" y2="697" stroke="#555" stroke-width="1.6"/>
<polyline points="760,697 760,697" fill="none" stroke="#000" stroke-width="1.2" stroke-linejoin="round" stroke-linecap="round"/>
<line x1="858" y1="761" x2="880" y2="761" stroke="#555" stroke-width="1.6"/>
<polyline points="880,761 895,700" fill="none" stroke="#000" stroke-width="1.2" stroke-linejoin="round" stroke-linecap="round"/>
<line x1="889" y1="761" x2="911" y2="761" stroke="#555" stroke-width="1.6"/>
<polyline points="911,761 928,708" fill="none" stroke="#000" stroke-width="1.2" stroke-linejoin="round" stroke-linecap="round"/>
<ellipse cx="956" cy="667" rx="6.5" ry="8.5" transform="rotate(25 956 667)" fill="none" stroke="#000" stroke-width="2.4"/>
<ellipse cx="959" cy="668" rx="3.5" ry="5" transform="rotate(25 959 668)" fill="none" stroke="#000" stroke-width="1.92"/>
<polyline points="951,659 962,658 968,664 966,675 957,677" fill="none" stroke="#000" stroke-width="1.68" stroke-linejoin="round" stroke-linecap="round"/>
<polyline points="967,665 1005,682" fill="none" stroke="#000" stroke-width="1.68" stroke-linejoin="round" stroke-linecap="round"/>
<polyline points="965,673 1003,690" fill="none" stroke="#000" stroke-width="1.68" stroke-linejoin="round" stroke-linecap="round"/>
<polyline points="968,668 1003,684" fill="none" stroke="#222" stroke-width="3.0" stroke-linejoin="round" stroke-linecap="round"/>
<path d="M1004.8,682 C1020,690 1030,705 1035,722 C1038,732 1038,740 1036,748" fill="none" stroke="#000" stroke-width="1.56" stroke-linejoin="round" stroke-linecap="round"/>
<path d="M1003,690 C1016,697 1025,710 1029,724 C1031,732 1031,740 1030,748" fill="none" stroke="#000" stroke-width="1.56" stroke-linejoin="round" stroke-linecap="round"/>
<line x1="1029" y1="733" x2="1037" y2="733" stroke="#000" stroke-width="1.44" stroke-linecap="round"/>
<polyline points="1025.7,760.6 1025.5,762.3 1025.3,764 1025.2,765.7 1025.1,767.4 1025.1,769.1 1025.1,770.8 1025.1,772.5 1025.2,774.2 1025.3,775.9 1025.5,777.6 1025.7,779.2 1026,780.9 1026.3,782.5 1026.7,784.1 1027.1,785.7 1027.5,787.3 1028,788.9 1028.6,790.4 1029.1,791.9 1029.8,793.4 1030.4,794.9 1031.1,796.3 1031.8,797.7 1032.6,799.1 1033.4,800.4 1034.3,801.8 1035.1,803 1036,804.3 1037,805.5 1038,806.7 1039,807.8 1040,808.9 1041.1,810 1042.2,811 1043.3,811.9 1044.5,812.9 1045.7,813.8 1046.9,814.6 1048.1,815.4 1049.3,816.2 1050.6,816.9 1051.9,817.5 1053.2,818.1 1054.5,818.7 1055.8,819.2 1057.2,819.7 1058.5,820.1 1059.9,820.5 1061.3,820.8 1062.7,821.1 1064.1,821.3 1065.5,821.5 1066.9,821.6 1068.3,821.7 1069.7,821.7 1071.1,821.7 1072.5,821.6 1074,821.5 1075.4,821.3 1076.8,821.1 1078.2,820.8 1079.6,820.5 1080.9,820.1 1082.3,819.7 1083.7,819.2 1085,818.7 1086.3,818.1 1087.7,817.5 1089,816.9 1090.3,816.2 1091.5,815.5 1092.8,814.7 1094,813.9 1095.2,813 1096.4,812.1 1097.5,811.2 1098.7,810.2 1099.8,809.2 1100.8,808.2 1101.9,807.1 1102.9,806 1103.9,804.8 1104.9,803.6 1105.8,802.4 1106.7,801.2 1107.6,799.9 1108.4,798.6 1109.2,797.3 1109.9,796 1110.7,794.6 1111.3,793.2 1112,791.8 1112.6,790.4 1113.2,788.9 1113.7,787.5 1114.2,786 1114.6,784.5 1115.1,783 1115.4,781.5 1115.8,780 1116.1,778.5 1116.3,777 1116.5,775.4 1116.7,773.9 1116.8,772.4 1116.9,770.8 1117,769.3 1117,767.8 1116.9,766.3 1116.9,764.7 1116.7,763.2 1116.6,761.7 1116.4,760.2 1116.1,758.8 1115.9,757.3 1115.5,755.8 1115.2,754.4 1114.8,753 1114.4,751.6 1113.9,750.2 1113.4,748.8 1112.8,747.5 1112.3,746.2 1111.6,744.9 1111,743.6 1110.3,742.4 1109.6,741.2 1108.8,740 1108,738.8 1107.2,737.7 1106.4,736.6 1105.5,735.6 1104.6,734.6 1103.7,733.6 1102.7,732.6 1101.8,731.7 1100.8,730.8 1099.7,730 1098.7,729.2 1097.6,728.4 1096.5,727.7 1095.4,727 1094.3,726.4 1093.1,725.8 1092,725.3 1090.8,724.7 1089.6,724.3 1088.4,723.8 1087.2,723.5 1086,723.1 1084.7,722.8 1083.5,722.6 1082.2,722.4 1081,722.2 1079.7,722.1 1078.5,722 1077.2,722 1076,722 1074.7,722.1 1073.4,722.2 1072.2,722.3 1070.9,722.5 1069.7,722.8 1068.4,723.1 1067.2,723.4 1066,723.8 1064.8,724.2 1063.6,724.6 1062.4,725.1 1061.2,725.6 1060,726.2 1058.9,726.8 1057.8,727.5 1056.7,728.1 1055.6,728.9 1054.5,729.6 1053.4,730.4 1052.4,731.3 1051.4,732.1 1050.4,733 1049.4,733.9 1048.5,734.9 1047.6,735.9 1046.7,736.9 1045.9,737.9 1045,739 1044.2,740.1 1043.5,741.2 1042.7,742.4 1042,743.5 1041.3,744.7 1040.7,745.9 1040.1,747.2 1039.5,748.4 1039,749.7 1038.4,751 1038,752.2 1037.5,753.5 1037.1,754.9 1036.7,756.2 1036.4,757.5 1036.1,758.9 1035.8,760.2 1035.6,761.6 1035.4,762.9 1035.3,764.3 1035.2,765.6 1035.1,767 1035,768.4 1035,769.7 1035,771.1 1035.1,772.4 1035.2,773.7 1035.3,775.1 1035.5,776.4 1035.7,777.7 1036,779 1036.2,780.3 1036.6,781.6 1036.9,782.8 1037.3,784.1 1037.7,785.3 1038.1,786.5 1038.6,787.7 1039.1,788.8 1039.7,790 1040.2,791.1 1040.8,792.2 1041.5,793.3 1042.1,794.3 1042.8,795.3 1043.5,796.3 1044.3,797.3 1045,798.2 1045.8,799.1 1046.6,800 1047.5,800.8 1048.3,801.7 1049.2,802.4 1050.1,803.2 1051.1,803.9 1052,804.6 1053,805.2 1053.9,805.8 1054.9,806.4 1055.9,806.9 1057,807.4 1058,807.8 1059,808.3 1060.1,808.6 1061.2,809 1062.2,809.3 1063.3,809.5 1064.4,809.8 1065.5,809.9 1066.6,810.1 1067.7,810.2 1068.8,810.3 1069.9,810.3 1071,810.3 1072.2,810.2 1073.3,810.1 1074.4,810 1075.5,809.8 1076.6,809.6 1077.6,809.4 1078.7,809.1 1079.8,808.8 1080.9,808.4 1081.9,808 1083,807.6 1084,807.2 1085,806.7 1086,806.1 1087,805.6 1088,805 1089,804.3 1089.9,803.7 1090.8,803 1091.7,802.3 1092.6,801.5 1093.5,800.7 1094.3,799.9 1095.1,799.1 1095.9,798.2 1096.7,797.3 1097.5,796.4 1098.2,795.5 1098.9,794.5 1099.6,793.5 1100.2,792.5 1100.8,791.5 1101.4,790.5 1102,789.4 1102.5,788.4 1103.1,787.3 1103.5,786.2 1104,785.1 1104.4,783.9 1104.8,782.8 1105.1,781.6 1105.5,780.5 1105.8,779.3 1106,778.2 1106.3,777 1106.5,775.8 1106.6,774.6 1106.8,773.4 1106.9,772.3 1107,771.1 1107,769.9 1107,768.7 1107,767.5 1106.9,766.4 1106.8,765.2 1106.7,764 1106.6,762.9 1106.4,761.7 1106.2,760.6 1106,759.5 1105.7,758.4 1105.4,757.3 1105.1,756.2 1104.7,755.1 1104.3,754.1 1103.9,753.1 1103.5,752 1103,751.1 1102.5,750.1 1102,749.1 1101.4,748.2 1100.9,747.3 1100.3,746.4 1099.7,745.5 1099,744.7 1098.3,743.9 1097.7,743.1 1097,742.3 1096.2,741.6 1095.5,740.9 1094.7,740.2 1093.9,739.6 1093.1,739 1092.3,738.4 1091.5,737.8 1090.7,737.3 1089.8,736.8 1088.9,736.4 1088,735.9 1087.1,735.5 1086.2,735.2 1085.3,734.9 1084.4,734.6 1083.5,734.3 1082.5,734.1 1081.6,733.9 1080.7,733.7 1079.7,733.6 1078.7,733.5 1077.8,733.4 1076.8,733.4 1075.9,733.4 1074.9,733.5 1074,733.5 1073,733.6 1072.1,733.8 1071.1,734 1070.2,734.2 1069.3,734.4 1068.3,734.7 1067.4,735 1066.5,735.3 1065.6,735.7 1064.7,736.1 1063.8,736.5 1063,737 1062.1,737.5 1061.3,738 1060.5,738.5 1059.6,739.1 1058.8,739.7 1058.1,740.3 1057.3,740.9 1056.6,741.6 1055.8,742.3 1055.1,743 1054.4,743.8 1053.8,744.5 1053.1,745.3 1052.5,746.1 1051.9,746.9 1051.3,747.8 1050.8,748.6 1050.2,749.5 1049.7,750.4 1049.3,751.3 1048.8,752.2 1048.4,753.1 1047.9,754.1 1047.6,755 1047.2,756 1046.9,757 1046.6,757.9 1046.3,758.9 1046,759.9 1045.8,760.9 1045.6,761.9 1045.4,762.9 1045.3,763.9 1045.2,764.9 1045.1,766 1045,767 1045,768 1045,769 1045,770 1045,771 1045.1,772 1045.2,773 1045.3,773.9 1045.5,774.9 1045.7,775.9 1045.9,776.8 1046.1,777.8 1046.3,778.7 1046.6,779.6 1046.9,780.5 1047.3,781.4 1047.6,782.3 1048,783.1 1048.4,784 1048.8,784.8 1049.2,785.6 1049.7,786.4 1050.2,787.2 1050.7,787.9 1051.2,788.7 1051.8,789.4 1052.3,790.1 1052.9,790.7 1053.5,791.4 1054.1,792 1054.7,792.6 1055.4,793.1 1056.1,793.7 1056.7,794.2 1057.4,794.7 1058.1,795.2 1058.8,795.6 1059.6,796 1060.3,796.4 1061,796.8 1061.8,797.1 1062.6,797.4 1063.3,797.7 1064.1,797.9 1064.9,798.2 1065.7,798.3 1066.5,798.5 1067.3,798.6 1068.1,798.7 1068.9,798.8 1069.7,798.9 1070.5,798.9 1071.3,798.9 1072.1,798.8 1072.9,798.8 1073.7,798.7 1074.5,798.6 1075.3,798.4 1076.1,798.2 1076.8,798 1077.6,797.8 1078.4,797.6 1079.2,797.3 1079.9,797 1080.6,796.6 1081.4,796.3 1082.1,795.9 1082.8,795.5 1083.5,795 1084.2,794.6 1084.9,794.1 1085.6,793.6 1086.2,793.1 1086.8,792.6 1087.5,792 1088.1,791.4 1088.6,790.8 1089.2,790.2 1089.8,789.6 1090.3,788.9 1090.8,788.2 1091.3,787.6 1091.8,786.9 1092.3,786.1 1092.7,785.4 1093.1,784.7 1093.5,783.9 1093.9,783.2 1094.3,782.4 1094.6,781.6 1094.9,780.8 1095.2,780 1095.5,779.2 1095.8,778.4 1096,777.6 1096.2,776.7 1096.4,775.9 1096.5,775.1 1096.7,774.3 1096.8,773.4 1096.9,772.6 1097,771.7 1097,770.9 1097,770.1 1097.1,769.2 1097,768.4 1097,767.6 1096.9,766.8 1096.8,766 1096.7,765.2 1096.6,764.4 1096.5,763.6 1096.3,762.8 1096.1,762 1095.9,761.2 1095.7,760.5 1095.4,759.7 1095.1,759 1094.8,758.3 1094.5,757.6 1094.2,756.9 1093.9,756.2 1093.5,755.5 1093.1,754.9 1092.7,754.3 1092.3,753.7 1091.9,753.1 1091.4,752.5 1091,751.9 1090.5,751.4 1090,750.9 1089.5,750.4 1089,749.9 1088.4,749.4 1087.9,749 1087.3,748.5 1086.8,748.1 1086.2,747.8 1085.6,747.4 1085,747.1 1084.4,746.8 1083.8,746.5 1083.2,746.2 1082.6,746 1081.9,745.7 1081.3,745.5 1080.7,745.4 1080,745.2 1079.4,745.1 1078.7,745 1078.1,744.9 1077.4,744.8 1076.8,744.8 1076.1,744.8 1075.5,744.8 1074.8,744.8 1074.2,744.9 1073.5,745 1072.9,745.1 1072.2,745.2 1071.6,745.4 1071,745.5 1070.3,745.7 1069.7,745.9 1069.1,746.2 1068.5,746.4 1067.9,746.7 1067.3,747 1066.7,747.3 1066.2,747.6 1065.6,748 1065,748.3 1064.5,748.7 1064,749.1 1063.5,749.6 1062.9,750 1062.5,750.5 1062,750.9 1061.5,751.4 1061,751.9 1060.6,752.4 1060.2,752.9 1059.8,753.5 1059.4,754 1059,754.6 1058.6,755.2 1058.3,755.8 1057.9,756.3 1057.6,756.9 1057.3,757.6 1057,758.2 1056.8,758.8 1056.5,759.4 1056.3,760.1 1056.1,760.7 1055.9,761.4 1055.7,762 1055.6,762.7 1055.4,763.3 1055.3,764 1055.2,764.7 1055.1,765.3 1055,766 1055,766.6 1054.9,767.3 1054.9,768 1054.9,768.6 1054.9,769.3 1055,769.9 1055,770.6 1055.1,771.2 1055.2,771.9 1055.3,772.5 1055.4,773.1 1055.6,773.7 1055.7,774.3 1055.9,774.9 1056.1,775.5 1056.3,776.1 1056.5,776.7 1056.7,777.2 1057,777.8 1057.2,778.3 1057.5,778.8 1057.8,779.4 1058.1,779.9 1058.4,780.4 1058.8,780.8 1059.1,781.3 1059.5,781.7 1059.8,782.2 1060.2,782.6 1060.6,783 1061,783.4 1061.4,783.7 1061.8,784.1 1062.2,784.4 1062.7,784.8 1063.1,785.1 1063.6,785.3 1064,785.6 1064.5,785.9 1064.9,786.1 1065.4,786.3 1065.9,786.5 1066.4,786.7 1066.9,786.9 1067.4,787 1067.9,787.1 1068.4,787.2 1068.9,787.3 1069.4,787.4 1069.9,787.5 1070.4,787.5 1070.9,787.5 1071.4,787.5 1071.9,787.5 1072.4,787.5 1072.9,787.4 1073.3,787.3 1073.8,787.3 1074.3,787.1 1074.8,787 1075.3,786.9 1075.8,786.7 1076.2,786.6 1076.7,786.4 1077.2,786.2 1077.6,786 1078.1,785.7 1078.5,785.5 1078.9,785.2 1079.4,785 1079.8,784.7 1080.2,784.4 1080.6,784.1 1081,783.7 1081.3,783.4 1081.7,783 1082.1,782.7 1082.4,782.3 1082.7,781.9 1083.1,781.5 1083.4,781.1 1083.7,780.7 1084,780.3 1084.3,779.9 1084.5,779.4 1084.8,779 1085,778.5 1085.3,778.1 1085.5,777.6 1085.7,777.2 1085.9,776.7 1086,776.2 1086.2,775.7 1086.4,775.3 1086.5,774.8 1086.6,774.3 1086.7,773.8 1086.8,773.3 1086.9,772.8 1087,772.3 1087,771.8 1087.1,771.3 1087.1,770.9 1087.1,770.4 1087.1,769.9 1087.1,769.4 1087.1,768.9 1087,768.4 1087,768 1086.9,767.5 1086.9,767 1086.8,766.6 1086.7,766.1 1086.6,765.7 1086.4,765.3 1086.3,764.8 1086.2,764.4 1086,764 1085.8,763.6 1085.7,763.2 1085.5,762.8 1085.3,762.4 1085.1,762 1084.8,761.6 1084.6,761.3 1084.4,760.9 1084.1,760.6 1083.9,760.3 1083.6,760 1083.3,759.7 1083.1,759.4 1082.8,759.1 1082.5,758.8 1082.2,758.6 1081.9,758.3 1081.6,758.1 1081.3,757.9 1080.9,757.7 1080.6,757.5 1080.3,757.3 1080,757.1 1079.6,757 1079.3,756.9 1078.9,756.7 1078.6,756.6 1078.2,756.5 1077.9,756.4 1077.5,756.3 1077.2,756.3 1076.8,756.2 1076.5,756.2 1076.1,756.2 1075.8,756.2 1075.4,756.2 1075.1,756.2 1074.7,756.2 1074.4,756.2 1074,756.3 1073.7,756.3 1073.4,756.4 1073,756.5 1072.7,756.6 1072.4,756.7 1072,756.8 1071.7,757 1071.4,757.1 1071.1,757.2 1070.8,757.4 1070.5,757.6 1070.2,757.8 1069.9,758 1069.6,758.2 1069.3,758.4 1069.1,758.6 1068.8,758.8 1068.6,759 1068.3,759.3 1068.1,759.5 1067.8,759.8 1067.6,760 1067.4,760.3 1067.2,760.6 1067,760.9 1066.8,761.1 1066.6,761.4 1066.4,761.7 1066.3,762 1066.1,762.3 1066,762.6 1065.8,762.9 1065.7,763.3 1065.6,763.6 1065.5,763.9 1065.3,764.2 1065.3,764.5 1065.2,764.8 1065.1,765.2 1065,765.5 1065,765.8 1064.9,766.1 1064.9,766.5 1064.9,766.8 1064.8,767.1 1064.8,767.4 1064.8,767.7 1064.8,768 1064.8,768.4 1064.9,768.7 1064.9,769 1064.9,769.3 1065,769.6 1065,769.9 1065.1,770.1 1065.2,770.4 1065.2,770.7 1065.3,771 1065.4,771.3 1065.5,771.5 1065.6,771.8 1065.7,772 1065.9,772.3 1066,772.5 1066.1,772.8 1066.3,773 1066.4,773.2 1066.5,773.4 1066.7,773.6 1066.9,773.8 1067,774 1067.2,774.2 1067.4,774.4 1067.5,774.6 1067.7,774.7 1067.9,774.9 1068.1,775 1068.3,775.2 1068.5,775.3 1068.7,775.4 1068.9,775.5 1069.1,775.6 1069.3,775.7 1069.5,775.8 1069.7,775.9 1069.9,776 1070.1,776 1070.3,776.1 1070.5,776.1 1070.7,776.2 1070.9,776.2 1071.1,776.2 1071.3,776.2 1071.6,776.2 1071.8,776.2 1072,776.2 1072.2,776.2 1072.4,776.2 1072.6,776.2 1072.8,776.1 1073,776.1 1073.1,776 1073.3,776 1073.5,775.9 1073.7,775.8 1073.9,775.8 1074.1,775.7 1074.2,775.6 1074.4,775.5 1074.6,775.4 1074.7,775.3 1074.9,775.2 1075.1,775.1 1075.2,775 1075.3,774.8 1075.5,774.7 1075.6,774.6 1075.8,774.4 1075.9,774.3 1076,774.2 1076.1,774 1076.2,773.9 1076.3,773.7 1076.4,773.6 1076.5,773.4 1076.6,773.2 1076.7,773.1 1076.8,772.9" fill="none" stroke="#000" stroke-width="2.16" stroke-linejoin="round" stroke-linecap="round"/>
<polyline points="1029.2,761.2 1029,762.8 1028.8,764.4 1028.7,765.9 1028.6,767.5 1028.6,769.1 1028.6,770.7 1028.6,772.3 1028.7,773.8 1028.8,775.4 1029,776.9 1029.2,778.5 1029.5,780 1029.8,781.5 1030.1,783 1030.5,784.5 1030.9,786 1031.4,787.4 1031.9,788.8 1032.4,790.2 1033,791.6 1033.6,793 1034.2,794.3 1034.9,795.6 1035.6,796.9 1036.4,798.1 1037.2,799.3 1038,800.5 1038.8,801.7 1039.7,802.8 1040.6,803.9 1041.6,804.9 1042.5,805.9 1043.5,806.9 1044.5,807.8 1045.6,808.7 1046.6,809.6 1047.7,810.4 1048.8,811.2 1050,811.9 1051.1,812.6 1052.3,813.3 1053.5,813.9 1054.7,814.4 1055.9,815 1057.2,815.4 1058.4,815.9 1059.7,816.3 1060.9,816.6 1062.2,816.9 1063.5,817.1 1064.8,817.3 1066.1,817.5 1067.4,817.6 1068.7,817.7 1070,817.7 1071.3,817.6 1072.6,817.6 1073.9,817.5 1075.2,817.3 1076.5,817.1 1077.8,816.8 1079.1,816.5 1080.4,816.2 1081.6,815.8 1082.9,815.3 1084.1,814.9 1085.4,814.4 1086.6,813.8 1087.8,813.2 1089,812.6 1090.1,811.9 1091.3,811.2 1092.4,810.4 1093.5,809.6 1094.6,808.8 1095.7,807.9 1096.7,807 1097.7,806.1 1098.7,805.1 1099.7,804.1 1100.6,803.1 1101.5,802 1102.4,800.9 1103.3,799.8 1104.1,798.6 1104.9,797.5 1105.6,796.3 1106.4,795.1 1107.1,793.8 1107.7,792.6 1108.3,791.3 1108.9,790 1109.5,788.7 1110,787.4 1110.5,786 1111,784.7 1111.4,783.3 1111.7,781.9 1112.1,780.5 1112.4,779.1 1112.7,777.7 1112.9,776.3 1113.1,774.9 1113.2,773.5 1113.3,772.1 1113.4,770.7 1113.5,769.3 1113.5,767.9 1113.4,766.5 1113.3,765.1 1113.2,763.7 1113.1,762.3 1112.9,761 1112.7,759.6 1112.4,758.2 1112.1,756.9 1111.8,755.6 1111.4,754.3 1111,753 1110.6,751.7 1110.1,750.5 1109.6,749.3 1109.1,748.1 1108.5,746.9 1107.9,745.7 1107.3,744.6 1106.6,743.5 1105.9,742.4 1105.2,741.3 1104.4,740.3 1103.7,739.3 1102.9,738.4 1102,737.4 1101.2,736.5 1100.3,735.7 1099.4,734.8 1098.5,734 1097.5,733.3 1096.6,732.5 1095.6,731.8 1094.6,731.2 1093.6,730.6 1092.5,730 1091.5,729.4 1090.4,728.9 1089.3,728.5 1088.2,728 1087.1,727.7 1086,727.3 1084.9,727 1083.8,726.8 1082.6,726.5 1081.5,726.3 1080.4,726.2 1079.2,726.1 1078.1,726 1076.9,726 1075.7,726 1074.6,726.1 1073.4,726.2 1072.3,726.4 1071.1,726.5 1070,726.8 1068.9,727 1067.8,727.3 1066.6,727.7 1065.5,728 1064.4,728.5 1063.3,728.9 1062.3,729.4 1061.2,729.9 1060.2,730.5 1059.1,731.1 1058.1,731.7 1057.1,732.4 1056.1,733.1 1055.2,733.8 1054.3,734.6 1053.3,735.3 1052.4,736.2 1051.6,737 1050.7,737.9 1049.9,738.8 1049.1,739.7 1048.3,740.7 1047.5,741.7 1046.8,742.7 1046.1,743.7 1045.5,744.7 1044.8,745.8 1044.2,746.9 1043.6,748 1043.1,749.1 1042.5,750.3 1042,751.4 1041.6,752.6 1041.2,753.7 1040.8,754.9 1040.4,756.1 1040.1,757.3 1039.8,758.6 1039.5,759.8 1039.2,761 1039,762.2 1038.9,763.5 1038.7,764.7 1038.6,765.9 1038.6,767.2 1038.5,768.4 1038.5,769.6 1038.6,770.9 1038.6,772.1 1038.7,773.3 1038.8,774.5 1039,775.7 1039.2,776.9 1039.4,778.1 1039.7,779.3 1040,780.4 1040.3,781.5 1040.6,782.7 1041,783.8 1041.4,784.9 1041.9,785.9 1042.3,787 1042.8,788 1043.3,789 1043.9,790 1044.5,791 1045.1,792 1045.7,792.9 1046.3,793.8 1047,794.6 1047.7,795.5 1048.4,796.3 1049.2,797.1 1049.9,797.8 1050.7,798.6 1051.5,799.3 1052.3,799.9 1053.2,800.6 1054,801.2 1054.9,801.8 1055.8,802.3 1056.7,802.8 1057.6,803.3 1058.5,803.7 1059.5,804.1 1060.4,804.5 1061.4,804.8 1062.4,805.1 1063.3,805.4 1064.3,805.6 1065.3,805.8 1066.3,806 1067.3,806.1 1068.3,806.2 1069.3,806.3 1070.3,806.3 1071.3,806.3 1072.3,806.2 1073.3,806.1 1074.3,806 1075.3,805.8 1076.3,805.7 1077.2,805.4 1078.2,805.2 1079.2,804.9 1080.1,804.6 1081.1,804.2 1082,803.8 1083,803.4 1083.9,802.9 1084.8,802.4 1085.7,801.9 1086.6,801.4 1087.4,800.8 1088.3,800.2 1089.1,799.6 1089.9,798.9 1090.7,798.2 1091.5,797.5 1092.2,796.8 1093,796.1 1093.7,795.3 1094.4,794.5 1095.1,793.6 1095.7,792.8 1096.3,791.9 1096.9,791.1 1097.5,790.1 1098.1,789.2 1098.6,788.3 1099.1,787.3 1099.6,786.4 1100,785.4 1100.5,784.4 1100.9,783.4 1101.2,782.4 1101.6,781.4 1101.9,780.3 1102.2,779.3 1102.4,778.3 1102.7,777.2 1102.9,776.2 1103,775.1 1103.2,774 1103.3,773 1103.4,771.9 1103.5,770.9 1103.5,769.8 1103.5,768.7 1103.5,767.7 1103.4,766.6 1103.3,765.6 1103.2,764.6 1103.1,763.5 1102.9,762.5 1102.7,761.5 1102.5,760.5 1102.3,759.5 1102,758.5 1101.7,757.6 1101.4,756.6 1101,755.7 1100.7,754.8 1100.3,753.9 1099.8,753 1099.4,752.1 1098.9,751.3 1098.4,750.4 1097.9,749.6 1097.4,748.8 1096.8,748.1 1096.2,747.3 1095.7,746.6 1095,745.9 1094.4,745.2 1093.8,744.6 1093.1,744 1092.4,743.4 1091.7,742.8 1091,742.3 1090.3,741.8 1089.5,741.3 1088.8,740.8 1088,740.4 1087.2,740 1086.4,739.6 1085.6,739.2 1084.8,738.9 1084,738.6 1083.2,738.4 1082.4,738.2 1081.5,738 1080.7,737.8 1079.8,737.7 1079,737.6 1078.2,737.5 1077.3,737.4 1076.5,737.4 1075.6,737.4 1074.8,737.5 1073.9,737.6 1073.1,737.7 1072.2,737.8 1071.4,738 1070.6,738.1 1069.7,738.4 1068.9,738.6 1068.1,738.9 1067.3,739.2 1066.5,739.5 1065.7,739.9 1065,740.3 1064.2,740.7 1063.4,741.1 1062.7,741.6 1062,742 1061.3,742.6 1060.6,743.1 1059.9,743.6 1059.2,744.2 1058.5,744.8 1057.9,745.4 1057.3,746.1 1056.7,746.7 1056.1,747.4 1055.5,748.1 1055,748.8 1054.5,749.5 1054,750.3 1053.5,751 1053,751.8 1052.6,752.6 1052.1,753.4 1051.7,754.2 1051.4,755 1051,755.9 1050.7,756.7 1050.4,757.5 1050.1,758.4 1049.8,759.3 1049.6,760.1 1049.4,761 1049.2,761.9 1049,762.8 1048.8,763.7 1048.7,764.5 1048.6,765.4 1048.6,766.3 1048.5,767.2 1048.5,768.1 1048.5,769 1048.5,769.9 1048.5,770.7 1048.6,771.6 1048.7,772.5 1048.8,773.3 1049,774.2 1049.1,775 1049.3,775.8 1049.5,776.7 1049.7,777.5 1050,778.3 1050.3,779.1 1050.6,779.8 1050.9,780.6 1051.2,781.4 1051.6,782.1 1051.9,782.8 1052.3,783.5 1052.7,784.2 1053.2,784.9 1053.6,785.5 1054.1,786.2 1054.5,786.8 1055,787.4 1055.5,787.9 1056.1,788.5 1056.6,789 1057.2,789.5 1057.7,790 1058.3,790.5 1058.9,790.9 1059.5,791.4 1060.1,791.8 1060.7,792.1 1061.4,792.5 1062,792.8 1062.7,793.1 1063.3,793.4 1064,793.7 1064.7,793.9 1065.3,794.1 1066,794.3 1066.7,794.5 1067.4,794.6 1068.1,794.7 1068.8,794.8 1069.5,794.8 1070.2,794.9 1070.9,794.9 1071.6,794.9 1072.3,794.8 1073,794.8 1073.7,794.7 1074.3,794.6 1075,794.4 1075.7,794.3 1076.4,794.1 1077.1,793.9 1077.7,793.7 1078.4,793.4 1079,793.1 1079.7,792.8 1080.3,792.5 1080.9,792.2 1081.5,791.8 1082.1,791.4 1082.7,791 1083.3,790.6 1083.9,790.2 1084.4,789.7 1085,789.3 1085.5,788.8 1086,788.3 1086.5,787.7 1087,787.2 1087.5,786.7 1087.9,786.1 1088.4,785.5 1088.8,784.9 1089.2,784.3 1089.6,783.7 1090,783.1 1090.3,782.4 1090.7,781.8 1091,781.1 1091.3,780.5 1091.6,779.8 1091.8,779.1 1092.1,778.4 1092.3,777.7 1092.5,777 1092.7,776.3 1092.9,775.6 1093,774.9 1093.2,774.2 1093.3,773.5 1093.4,772.8 1093.4,772.1 1093.5,771.3 1093.5,770.6 1093.6,769.9 1093.5,769.2 1093.5,768.5 1093.5,767.8 1093.4,767.1 1093.3,766.4 1093.2,765.7 1093.1,765.1 1093,764.4 1092.8,763.7 1092.7,763.1 1092.5,762.4 1092.3,761.8 1092.1,761.1 1091.8,760.5 1091.6,759.9 1091.3,759.3 1091,758.8 1090.7,758.2 1090.4,757.6 1090.1,757.1 1089.7,756.6 1089.4,756 1089,755.5 1088.6,755.1 1088.2,754.6 1087.8,754.1 1087.4,753.7 1087,753.3 1086.5,752.9 1086.1,752.5 1085.6,752.1 1085.1,751.8 1084.7,751.5 1084.2,751.2 1083.7,750.9 1083.2,750.6 1082.7,750.3 1082.1,750.1 1081.6,749.9 1081.1,749.7 1080.6,749.5 1080,749.4 1079.5,749.2 1079,749.1 1078.4,749 1077.9,748.9 1077.3,748.9 1076.8,748.8 1076.2,748.8 1075.7,748.8 1075.1,748.8 1074.6,748.9 1074.1,748.9 1073.5,749 1073,749.1 1072.5,749.2 1071.9,749.3 1071.4,749.5 1070.9,749.7 1070.4,749.8 1069.9,750 1069.4,750.3 1068.9,750.5 1068.4,750.7 1067.9,751 1067.4,751.3 1067,751.6 1066.5,751.9 1066.1,752.2 1065.6,752.6 1065.2,752.9 1064.8,753.3 1064.4,753.7 1064,754.1 1063.6,754.5 1063.2,754.9 1062.9,755.3 1062.5,755.8 1062.2,756.2 1061.9,756.7 1061.6,757.2 1061.3,757.6 1061,758.1 1060.7,758.6 1060.5,759.1 1060.2,759.6 1060,760.1 1059.8,760.7 1059.6,761.2 1059.4,761.7 1059.3,762.2 1059.1,762.8 1059,763.3 1058.9,763.8 1058.8,764.4 1058.7,764.9 1058.6,765.5 1058.5,766 1058.5,766.5 1058.4,767.1 1058.4,767.6 1058.4,768.2 1058.4,768.7 1058.4,769.2 1058.5,769.8 1058.5,770.3 1058.6,770.8 1058.7,771.3 1058.8,771.8 1058.9,772.3 1059,772.8 1059.1,773.3 1059.3,773.8 1059.5,774.3 1059.6,774.7 1059.8,775.2 1060,775.6 1060.2,776.1 1060.4,776.5 1060.7,776.9 1060.9,777.3 1061.2,777.7 1061.4,778.1 1061.7,778.5 1062,778.8 1062.3,779.2 1062.6,779.5 1062.9,779.8 1063.2,780.2 1063.5,780.5 1063.9,780.7 1064.2,781 1064.5,781.3 1064.9,781.5 1065.2,781.8 1065.6,782 1066,782.2 1066.4,782.4 1066.7,782.5 1067.1,782.7 1067.5,782.8 1067.9,783 1068.3,783.1 1068.7,783.2 1069.1,783.3 1069.4,783.4 1069.8,783.4 1070.2,783.5 1070.6,783.5 1071,783.5 1071.4,783.5 1071.8,783.5 1072.2,783.5 1072.6,783.4 1073,783.4 1073.4,783.3 1073.8,783.2 1074.1,783.2 1074.5,783 1074.9,782.9 1075.3,782.8 1075.6,782.7 1076,782.5 1076.3,782.3 1076.7,782.1 1077,782 1077.4,781.8 1077.7,781.5 1078,781.3 1078.3,781.1 1078.6,780.8 1078.9,780.6 1079.2,780.3 1079.5,780.1 1079.8,779.8 1080.1,779.5 1080.3,779.2 1080.6,778.9 1080.8,778.6 1081.1,778.3 1081.3,777.9 1081.5,777.6 1081.7,777.3 1081.9,776.9 1082.1,776.6 1082.2,776.2 1082.4,775.9 1082.6,775.5 1082.7,775.2 1082.8,774.8 1083,774.5 1083.1,774.1 1083.2,773.7 1083.3,773.3 1083.4,773 1083.4,772.6 1083.5,772.2 1083.5,771.9 1083.6,771.5 1083.6,771.1 1083.6,770.8 1083.6,770.4 1083.6,770 1083.6,769.7 1083.6,769.3 1083.6,768.9 1083.5,768.6 1083.5,768.2 1083.4,767.9 1083.4,767.6 1083.3,767.2 1083.2,766.9 1083.1,766.6 1083,766.2 1082.9,765.9 1082.8,765.6 1082.6,765.3 1082.5,765 1082.4,764.7 1082.2,764.5 1082.1,764.2 1081.9,763.9 1081.7,763.7 1081.5,763.4 1081.4,763.2 1081.2,762.9 1081,762.7 1080.8,762.5 1080.6,762.3 1080.4,762.1 1080.1,761.9 1079.9,761.7 1079.7,761.6 1079.5,761.4 1079.2,761.2 1079,761.1 1078.8,761 1078.5,760.8 1078.3,760.7 1078.1,760.6 1077.8,760.5 1077.6,760.5 1077.3,760.4 1077.1,760.3 1076.8,760.3 1076.6,760.2 1076.3,760.2 1076.1,760.1 1075.8,760.1 1075.6,760.1 1075.3,760.1 1075.1,760.1 1074.8,760.1 1074.6,760.2 1074.3,760.2 1074.1,760.2 1073.9,760.3 1073.6,760.4 1073.4,760.4 1073.2,760.5 1073,760.6 1072.7,760.7 1072.5,760.8 1072.3,760.9 1072.1,761 1071.9,761.1 1071.7,761.2 1071.5,761.4 1071.3,761.5 1071.1,761.7 1070.9,761.8 1070.7,762 1070.6,762.1 1070.4,762.3 1070.2,762.5 1070.1,762.6 1069.9,762.8 1069.8,763 1069.7,763.2 1069.5,763.4 1069.4,763.6 1069.3,763.7 1069.2,763.9 1069.1,764.1 1069,764.3 1068.9,764.5 1068.8,764.8 1068.7,765 1068.6,765.2 1068.6,765.4 1068.5,765.6 1068.5,765.8 1068.4,766 1068.4,766.2 1068.3,766.4 1068.3,766.6 1068.3,766.8 1068.3,767 1068.2,767.2 1068.2,767.4 1068.2,767.6 1068.2,767.8 1068.3,768 1068.3,768.2 1068.3,768.4 1068.3,768.6 1068.4,768.8 1068.4,769 1068.4,769.2 1068.5,769.3 1068.5,769.5 1068.6,769.7 1068.7,769.8 1068.7,770 1068.8,770.1 1068.9,770.3 1068.9,770.4 1069,770.6 1069.1,770.7 1069.2,770.9 1069.3,771 1069.4,771.1 1069.5,771.2 1069.6,771.3 1069.7,771.4 1069.8,771.5 1069.9,771.6 1070,771.7 1070.1,771.8 1070.2,771.9 1070.3,772 1070.4,772 1070.6,772.1 1070.7,772.1 1070.8,772.2 1070.9,772.2 1071,772.3 1071.1,772.3 1071.3,772.4 1071.4,772.4 1071.5,772.4 1071.6,772.4 1071.7,772.4 1071.8,772.4 1071.9,772.4 1072.1,772.4 1072.2,772.4 1072.3,772.4 1072.4,772.4 1072.5,772.4 1072.6,772.3 1072.7,772.3 1072.8,772.3 1072.9,772.2 1073,772.2 1073.1,772.2 1073.2,772.1 1073.3,772.1 1073.3,772 1073.4,772 1073.5,771.9 1073.6,771.8 1073.7,771.8 1073.7,771.7 1073.8,771.6 1073.9,771.6 1073.9,771.5 1074,771.4 1074,771.3 1074.1,771.3 1074.1,771.2 1074.2,771.1 1074.2,771 1074.2,771 1074.3,770.9 1074.3,770.8 1074.3,770.7 1074.4,770.6 1074.4,770.6 1074.4,770.5 1074.4,770.4 1074.4,770.3 1074.4,770.2 1074.4,770.2 1074.4,770.1" fill="none" stroke="#000" stroke-width="2.16" stroke-linejoin="round" stroke-linecap="round"/>
<polyline points="1066,714 1128,734" fill="none" stroke="#000" stroke-width="1.56" stroke-linejoin="round" stroke-linecap="round"/>
<polyline points="1066,721 1127,741" fill="none" stroke="#000" stroke-width="1.56" stroke-linejoin="round" stroke-linecap="round"/>
<polyline points="1127,733 1150,743" fill="none" stroke="#000" stroke-width="1.56" stroke-linejoin="round" stroke-linecap="round"/>
<polyline points="1126,741 1149,751" fill="none" stroke="#000" stroke-width="1.56" stroke-linejoin="round" stroke-linecap="round"/>
<line x1="1127" y1="733" x2="1126" y2="741" stroke="#000" stroke-width="1.44" stroke-linecap="round"/>
<polyline points="1150.6,748 1165,740.8 1190.2,751.6 1177.6,758.8 1150.6,748" fill="none" stroke="#000" stroke-width="1.7999999999999998" stroke-linejoin="round" stroke-linecap="round"/>
<polyline points="1150.6,748 1148.8,784 1172.2,796.6 1177.6,758.8" fill="none" stroke="#000" stroke-width="1.7999999999999998" stroke-linejoin="round" stroke-linecap="round"/>
<polyline points="1190.2,751.6 1192,784 1172.2,796.6" fill="none" stroke="#000" stroke-width="1.7999999999999998" stroke-linejoin="round" stroke-linecap="round"/>
<polyline points="1151,750 1177,760" fill="none" stroke="#000" stroke-width="3.12" stroke-linejoin="round" stroke-linecap="round"/>
<polyline points="1152,770 1156,784" fill="none" stroke="#000" stroke-width="1.44" stroke-linejoin="round" stroke-linecap="round"/>
<polyline points="1186,775 1190,782" fill="none" stroke="#000" stroke-width="1.44" stroke-linejoin="round" stroke-linecap="round"/>
<polyline points="1156,790 1157,808 1161,809 1161,792" fill="none" stroke="#000" stroke-width="1.56" stroke-linejoin="round" stroke-linecap="round"/>
<polyline points="1170,794 1171,802 1175,802 1176,793" fill="none" stroke="#000" stroke-width="1.56" stroke-linejoin="round" stroke-linecap="round"/>
<path d="M1088.7,608.7 C1082,595 1074,580 1072.7,563 C1072,553 1080,548 1095,547 C1115,546 1135,548 1145,553 C1152,558 1150,567 1143,575 C1135,585 1125,595 1116.7,607.3" fill="none" stroke="#000" stroke-width="1.68" stroke-linejoin="round" stroke-linecap="round"/>
<path d="M1150,563 C1162,575 1178,595 1182,612 C1184,620 1178,628 1170,631" fill="none" stroke="#000" stroke-width="1.68" stroke-linejoin="round" stroke-linecap="round"/>
<path d="M1088.7,608.7 C1080,615 1060,635 1036.7,647.3 C1025,653 1018,660 1025,665 C1035,669 1050,668 1060,665 C1068,662 1075,658 1080,655" fill="none" stroke="#000" stroke-width="1.68" stroke-linejoin="round" stroke-linecap="round"/>
<path d="M1083.3,668.7 C1074,676 1068,684 1066,703 C1065,712 1065,718 1064.7,723.3" fill="none" stroke="#000" stroke-width="1.68" stroke-linejoin="round" stroke-linecap="round"/>
<path d="M1090,676.7 C1082,690 1075,700 1072.7,707.3 C1070,713 1068,717 1066,719.3" fill="none" stroke="#000" stroke-width="1.56" stroke-linejoin="round" stroke-linecap="round"/>
<path d="M1102,671.3 C1102,680 1102,690 1103.3,696.7 C1106,705 1110,712 1114,714 C1120,719 1125,720 1127.3,719.3 C1132,717 1133,712 1132.7,712.7 C1134,705 1134,700 1134,696.7 C1133,692 1130,689 1127.3,687.3" fill="none" stroke="#000" stroke-width="1.68" stroke-linejoin="round" stroke-linecap="round"/>
<path d="M1088,610 C1092,602 1098,598 1103,600" fill="none" stroke="#000" stroke-width="1.44" stroke-linejoin="round" stroke-linecap="round"/>
<path d="M1116,608 C1120,603 1125,598 1128,597" fill="none" stroke="#000" stroke-width="1.44" stroke-linejoin="round" stroke-linecap="round"/>
<ellipse cx="1101" cy="641" rx="19" ry="30" transform="rotate(12 1101 641)" fill="none" stroke="#000" stroke-width="1.7999999999999998"/>
<ellipse cx="1104" cy="641" rx="11" ry="19" transform="rotate(12 1104 641)" fill="none" stroke="#000" stroke-width="2.64"/>
<ellipse cx="1107" cy="637" rx="5" ry="6" fill="none" stroke="#000" stroke-width="1.68"/>
<polyline points="1130,627 1141,618 1170,631 1146,634.5 1130,627" fill="none" stroke="#000" stroke-width="1.7999999999999998" stroke-linejoin="round" stroke-linecap="round"/>
<polyline points="1116,629 1108.3,680.6" fill="none" stroke="#000" stroke-width="1.68" stroke-linejoin="round" stroke-linecap="round"/>
<polyline points="1116,629 1130,627" fill="none" stroke="#000" stroke-width="1.68" stroke-linejoin="round" stroke-linecap="round"/>
<polyline points="1112,651.3 1145.7,664.5" fill="none" stroke="#000" stroke-width="1.68" stroke-linejoin="round" stroke-linecap="round"/>
<polyline points="1108.3,673.3 1134,684.3" fill="none" stroke="#000" stroke-width="1.68" stroke-linejoin="round" stroke-linecap="round"/>
<polyline points="1110,682 1134,695.3" fill="none" stroke="#000" stroke-width="1.68" stroke-linejoin="round" stroke-linecap="round"/>
<ellipse cx="1141.3" cy="666" rx="12.5" ry="29" transform="rotate(5 1141.3 666)" fill="none" stroke="#000" stroke-width="2.04"/>
<path d="M1152,640 C1156,633 1168,634 1174,640 C1178,650 1178,668 1174,676 C1168,682 1156,681 1152,675 Z" fill="#2e2e2e"/>
<path d="M1158,650 L1164,652 L1163,660 L1158,659 Z M1160,666 L1166,667 L1165,672 L1160,671 Z" fill="#ddd"/>
<path d="M1150,634 C1160,626 1172,632 1176,642 C1179,655 1178,672 1172,680 C1166,686 1154,685 1149,680" fill="none" stroke="#000" stroke-width="2.16" stroke-linejoin="round" stroke-linecap="round"/>
<path d="M1145,640 C1150,646 1152,660 1150,672 C1148,680 1146,684 1142,686" fill="none" stroke="#000" stroke-width="1.44" stroke-linejoin="round" stroke-linecap="round"/>
<circle cx="1159" cy="683.6" r="2.6" fill="#000"/>
<polyline points="1177.6,658.7 1228,680.6" fill="none" stroke="#000" stroke-width="1.44" stroke-dasharray="4,2" stroke-linejoin="round" stroke-linecap="round"/>
<polyline points="1165,683.8 1219,705.7" fill="none" stroke="#000" stroke-width="1.44" stroke-dasharray="4,2" stroke-linejoin="round" stroke-linecap="round"/>
<ellipse cx="1177.6" cy="693.2" rx="3" ry="5" transform="rotate(20 1177.6 693.2)" fill="none" stroke="#000" stroke-width="1.92"/>
<polyline points="1254.6,831.3 1251.3,831.7 1248.1,831.8 1245,831.7 1241.9,831.4 1239,830.8 1236.1,829.9 1233.3,828.8 1230.7,827.4 1228.2,825.8 1225.8,824 1223.5,821.9 1221.4,819.6 1219.5,817 1217.6,814.3 1216,811.3 1214.4,808.2 1213.1,804.8 1211.9,801.3 1210.9,797.5 1210,793.7 1209.3,789.6 1208.8,785.4 1208.5,781 1208.3,776.6 1208.3,772 1208.5,767.3 1208.9,762.5 1209.4,757.6 1210.1,752.6 1211,747.6 1212,742.6 1213.3,737.5 1214.6,732.4 1216.2,727.2 1217.9,722.1 1219.7,717 1221.7,711.9 1223.9,706.9 1226.1,701.9 1228.5,696.9 1231.1,692.1 1233.7,687.3 1236.5,682.7 1239.4,678.1 1242.3,673.7 1245.4,669.4 1248.6,665.2 1251.8,661.2 1255.1,657.4 1258.4,653.7 1261.9,650.2 1265.3,646.9 1268.8,643.8 1272.3,640.9 1275.9,638.3 1279.4,635.8 1283,633.6 1286.5,631.6 1290,629.8 1293.5,628.3" fill="none" stroke="#000" stroke-width="1.56" stroke-linejoin="round" stroke-linecap="round"/>
<path d="M1264,632 L1266,620 C1270,615 1280,614 1284,618 L1285,628" fill="none" stroke="#000" stroke-width="1.68" stroke-linejoin="round" stroke-linecap="round"/>
<ellipse cx="1275" cy="622" rx="2.5" ry="2" fill="none" stroke="#000" stroke-width="1.44"/>
<path d="M1203,778 C1198,775 1198,768 1203,766 C1208,764 1212,770 1210,776" fill="none" stroke="#000" stroke-width="1.68" stroke-linejoin="round" stroke-linecap="round"/>
<ellipse cx="1288.1" cy="725.1" rx="109" ry="57.9" transform="rotate(-65 1288.1 725.1)" fill="#2a2a2a" stroke="#111" stroke-width="5.3999999999999995"/>
<ellipse cx="1289.1" cy="725.5" rx="104.1" ry="55.3" transform="rotate(-65 1289.1 725.5)" fill="none" stroke="#e4e4e4" stroke-width="2.04"/>
<ellipse cx="1290.6" cy="726.1" rx="96.5" ry="51.2" transform="rotate(-65 1290.6 726.1)" fill="none" stroke="#e4e4e4" stroke-width="2.04"/>
<ellipse cx="1292.2" cy="726.8" rx="88.8" ry="47.2" transform="rotate(-65 1292.2 726.8)" fill="none" stroke="#e4e4e4" stroke-width="2.04"/>
<ellipse cx="1293.7" cy="727.4" rx="81.2" ry="43.1" transform="rotate(-65 1293.7 727.4)" fill="none" stroke="#e4e4e4" stroke-width="2.04"/>
<ellipse cx="1295.2" cy="728" rx="73.6" ry="39.1" transform="rotate(-65 1295.2 728)" fill="none" stroke="#e4e4e4" stroke-width="2.04"/>
<ellipse cx="1296.8" cy="728.7" rx="65.9" ry="35" transform="rotate(-65 1296.8 728.7)" fill="none" stroke="#e4e4e4" stroke-width="2.04"/>
<ellipse cx="1298.3" cy="729.3" rx="58.3" ry="31" transform="rotate(-65 1298.3 729.3)" fill="none" stroke="#e4e4e4" stroke-width="2.04"/>
<ellipse cx="1299.8" cy="729.9" rx="51.2" ry="27.2" transform="rotate(-65 1299.8 729.9)" fill="none" stroke="#e4e4e4" stroke-width="2.04"/>
<ellipse cx="1238" cy="708" rx="1.5" ry="2.2" transform="rotate(20 1238 708)" fill="#ddd" stroke="#ddd" stroke-width="0.6"/>
<ellipse cx="1246.5" cy="710.5" rx="1.5" ry="2.2" transform="rotate(20 1246.5 710.5)" fill="#ddd" stroke="#ddd" stroke-width="0.6"/>
<ellipse cx="1255" cy="713" rx="1.5" ry="2.2" transform="rotate(20 1255 713)" fill="#ddd" stroke="#ddd" stroke-width="0.6"/>
<ellipse cx="1263.5" cy="715.5" rx="1.5" ry="2.2" transform="rotate(20 1263.5 715.5)" fill="#ddd" stroke="#ddd" stroke-width="0.6"/>
<ellipse cx="1272" cy="718" rx="1.5" ry="2.2" transform="rotate(20 1272 718)" fill="#ddd" stroke="#ddd" stroke-width="0.6"/>
<path d="M1278,768 C1272,758 1284,722 1298,703 C1308,690 1322,684 1328,690 C1334,700 1332,740 1326,756 C1318,772 1286,780 1278,768 Z" fill="#fff" stroke="#000" stroke-width="2.88" stroke-linejoin="round" stroke-linecap="round"/>
<path d="M1283,764 C1279,755 1288,725 1300,709 C1309,697 1320,692 1324,697 C1328,707 1327,738 1322,752 C1316,765 1289,774 1283,764 Z" fill="none" stroke="#000" stroke-width="1.68" stroke-linejoin="round" stroke-linecap="round"/>
<circle cx="1303.4" cy="718.2" r="2.6" fill="#000"/>
<circle cx="1298.8" cy="747.7" r="2.6" fill="#000"/>
<polyline points="1304,718 1348,740" fill="none" stroke="#000" stroke-width="1.32" stroke-dasharray="3,2" stroke-linejoin="round" stroke-linecap="round"/>
<polyline points="1300,748 1350,758" fill="none" stroke="#000" stroke-width="1.32" stroke-dasharray="3,2" stroke-linejoin="round" stroke-linecap="round"/>
<polyline points="1291,780 1285,762" fill="none" stroke="#000" stroke-width="1.2" stroke-linejoin="round" stroke-linecap="round"/>
<polyline points="1354.8,654.5 1355.5,656.9 1356.1,659.5 1356.6,662 1357.1,664.7 1357.5,667.4 1357.7,670.3 1358,673.1 1358.1,676.1 1358.1,679.1 1358.1,682.2 1358,685.3 1357.8,688.4 1357.5,691.6 1357.1,694.9 1356.7,698.2 1356.1,701.5 1355.5,704.9 1354.9,708.3 1354.1,711.7 1353.3,715.1 1352.4,718.5 1351.4,722 1350.3,725.4 1349.2,728.9 1348,732.3 1346.7,735.7 1345.4,739.2 1344,742.6 1342.5,746 1340.9,749.3 1339.4,752.7 1337.7,756 1336,759.3 1334.2,762.5 1332.4,765.7 1330.5,768.8 1328.6,771.9 1326.7,774.9 1324.7,777.9 1322.6,780.8 1320.5,783.6 1318.4,786.4 1316.3,789.1 1314.1,791.7 1311.9,794.3 1309.6,796.7 1307.4,799.1 1305.1,801.4 1302.8,803.6 1300.5,805.7 1298.2,807.7 1295.8,809.6 1293.5,811.4 1291.2,813 1288.8,814.6 1286.5,816.1 1284.2,817.5 1281.8,818.7 1279.5,819.9 1277.2,820.9" fill="none" stroke="#111" stroke-width="4.8" stroke-linejoin="round" stroke-linecap="round"/>
<ellipse cx="1362" cy="744" rx="3.5" ry="3" fill="#111" stroke="#111" stroke-width="2.88"/>
<line x1="1352" y1="741" x2="1359" y2="743" stroke="#000" stroke-width="2.4" stroke-linecap="round"/>
<ellipse cx="1364" cy="752" rx="3.5" ry="3" fill="#111" stroke="#111" stroke-width="2.88"/>
<line x1="1354" y1="749" x2="1361" y2="751" stroke="#000" stroke-width="2.4" stroke-linecap="round"/>
<ellipse cx="1360" cy="776" rx="3.5" ry="3" fill="#111" stroke="#111" stroke-width="2.88"/>
<line x1="1350" y1="773" x2="1357" y2="775" stroke="#000" stroke-width="2.4" stroke-linecap="round"/>
<ellipse cx="1291" cy="546" rx="3.5" ry="3" fill="#222" stroke="#222" stroke-width="2.4"/>
<polyline points="1290,551 1289,556" fill="none" stroke="#000" stroke-width="2.4" stroke-linejoin="round" stroke-linecap="round"/>
<polyline points="1289,558 1283,618" fill="none" stroke="#000" stroke-width="1.44" stroke-dasharray="4,2" stroke-linejoin="round" stroke-linecap="round"/>
<polyline points="1248,826 1245,858" fill="none" stroke="#000" stroke-width="1.44" stroke-dasharray="4,2" stroke-linejoin="round" stroke-linecap="round"/>
<ellipse cx="1244" cy="864" rx="3.2" ry="2.8" fill="#111" stroke="#111" stroke-width="2.64"/>
<polyline points="1270,822 1267,855" fill="none" stroke="#000" stroke-width="1.44" stroke-dasharray="4,2" stroke-linejoin="round" stroke-linecap="round"/>
<ellipse cx="1266" cy="860" rx="3.2" ry="2.8" fill="#111" stroke="#111" stroke-width="2.64"/>
<ellipse cx="1156" cy="853" rx="3" ry="3" fill="#111" stroke="#111" stroke-width="2.4"/>
<polyline points="1160,848 1200,780" fill="none" stroke="#000" stroke-width="1.44" stroke-dasharray="4,2" stroke-linejoin="round" stroke-linecap="round"/>
<line x1="1040" y1="514.5" x2="1060" y2="514.5" stroke="#555" stroke-width="1.6"/>
<polyline points="1059,514.5 1093,564.6" fill="none" stroke="#000" stroke-width="1.2" stroke-linejoin="round" stroke-linecap="round"/>
<line x1="1088" y1="514.5" x2="1107" y2="514.5" stroke="#555" stroke-width="1.6"/>
<polyline points="1107,514.5 1143,627" fill="none" stroke="#000" stroke-width="1.2" stroke-linejoin="round" stroke-linecap="round"/>
<line x1="1005" y1="583.5" x2="1024" y2="583.5" stroke="#555" stroke-width="1.6"/>
<polyline points="1005,583.5 955,660" fill="none" stroke="#000" stroke-width="1.2" stroke-linejoin="round" stroke-linecap="round"/>
<line x1="1038" y1="583.5" x2="1058" y2="583.5" stroke="#555" stroke-width="1.6"/>
<polyline points="1038,583.5 990,672" fill="none" stroke="#000" stroke-width="1.2" stroke-linejoin="round" stroke-linecap="round"/>
<line x1="1202" y1="669" x2="1225" y2="669" stroke="#555" stroke-width="1.6"/>
<polyline points="1202.7,669 1178,690" fill="none" stroke="#000" stroke-width="1.2" stroke-linejoin="round" stroke-linecap="round"/>
<line x1="1320" y1="812.5" x2="1340" y2="812.5" stroke="#555" stroke-width="1.6"/>
<polyline points="1340.6,812.5 1359.5,778" fill="none" stroke="#000" stroke-width="1.2" stroke-linejoin="round" stroke-linecap="round"/>
<line x1="1316" y1="861" x2="1335" y2="861" stroke="#555" stroke-width="1.6"/>
<polyline points="1318.7,861 1300,806" fill="none" stroke="#000" stroke-width="1.2" stroke-linejoin="round" stroke-linecap="round"/>
<line x1="1108" y1="867" x2="1128" y2="867" stroke="#555" stroke-width="1.6"/>
<polyline points="1127.5,867 1155,853" fill="none" stroke="#000" stroke-width="1.2" stroke-linejoin="round" stroke-linecap="round"/>
<line x1="1279" y1="908.5" x2="1300" y2="908.5" stroke="#555" stroke-width="1.6"/>
<polyline points="1279.5,908.5 1246,867" fill="none" stroke="#000" stroke-width="1.2" stroke-linejoin="round" stroke-linecap="round"/>
<polyline points="660.6,1193.7 661.6,1189.7 662.7,1185.7 663.9,1181.8 665.1,1177.8 666.4,1173.8 667.8,1169.9 669.2,1165.9 670.7,1162 672.3,1158.1 673.9,1154.2 675.7,1150.3 677.4,1146.4 679.3,1142.6 681.2,1138.8 683.1,1135 685.1,1131.3 687.2,1127.6 689.3,1123.9 691.5,1120.3 693.7,1116.7 696,1113.2 698.4,1109.7 700.8,1106.3 703.2,1102.9 705.7,1099.6 708.2,1096.3 710.8,1093.1 713.4,1089.9 716,1086.8 718.7,1083.8 721.4,1080.8 724.2,1077.9 727,1075.1 729.8,1072.4 732.6,1069.7 735.5,1067.1 738.4,1064.6 741.3,1062.1 744.2,1059.8 747.2,1057.5 750.2,1055.3 753.2,1053.2 756.2,1051.2 759.2,1049.2 762.2,1047.4 765.2,1045.6 768.3,1044 771.3,1042.4 774.4,1040.9 777.4,1039.5 780.4,1038.2 783.5,1037 786.5,1035.9 789.5,1034.9 792.5,1034 795.5,1033.2 798.5,1032.5 801.5,1031.9 804.4,1031.4 807.4,1031 810.3,1030.7 813.2,1030.5 816,1030.4 818.8,1030.4 821.6,1030.5 824.4,1030.7 827.2,1031 829.9,1031.5 832.5,1032 835.2,1032.6 837.7,1033.3 840.3,1034.1 842.8,1035 845.3,1036 847.7,1037.1 850,1038.3 852.4,1039.6 854.6,1041 856.8,1042.5 859,1044 861.1,1045.7 863.1,1047.5 865.1,1049.3 867.1,1051.3 868.9,1053.3 870.7,1055.4 872.5,1057.6 874.2,1059.9 875.8,1062.3 877.3,1064.7 878.8,1067.2 880.2,1069.8 881.6,1072.5 882.9,1075.3 884.1,1078.1 885.2,1081 886.3,1083.9 887.2,1087 888.2,1090.1 889,1093.2 889.8,1096.4 890.5,1099.7 891.1,1103.1 891.6,1106.4 892.1,1109.9 892.5,1113.4 892.8,1116.9 893,1120.5 893.2,1124.1 893.2,1127.8 893.2,1131.5 893.2,1135.2 893,1139 892.8,1142.8 892.5,1146.6 892.1,1150.5 891.6,1154.4 891.1,1158.3 890.5,1162.2 889.8,1166.1 889,1170.1 888.2,1174 887.2,1178 886.3,1182 885.2,1185.9 884.1,1189.9 882.9,1193.9 881.6,1197.9 880.2,1201.8 878.8,1205.8 877.3,1209.7 875.8,1213.7 874.2,1217.6 872.5,1221.5 870.7,1225.3 868.9,1229.2 867.1,1233 865.1,1236.8 863.1,1240.5 861.1,1244.2 859,1247.9 856.8,1251.5 854.6,1255.1 852.4,1258.7 850,1262.2 847.7,1265.7 845.3,1269.1 842.8,1272.4 840.3,1275.7 837.7,1279 835.2,1282.1 832.5,1285.3 829.9,1288.3 827.2,1291.3 824.4,1294.2 821.6,1297.1 818.8,1299.9 816,1302.6 813.2,1305.2 810.3,1307.8 807.4,1310.2 804.4,1312.6 801.5,1314.9 798.5,1317.2 795.5,1319.3 792.5,1321.4 789.5,1323.4 786.5,1325.2 783.5,1327 780.4,1328.7 777.4,1330.4 774.4,1331.9 771.3,1333.3 768.3,1334.6 765.2,1335.9 762.2,1337 759.2,1338 756.2,1339 753.2,1339.8 750.2,1340.6 747.2,1341.2 744.2,1341.8 741.3,1342.2 738.4,1342.6 735.5,1342.8 732.6,1342.9 729.8,1343 727,1342.9 724.2,1342.8 721.4,1342.5 718.7,1342.1 716,1341.7 713.4,1341.1 710.8,1340.4 708.2,1339.7 705.7,1338.8 703.2,1337.8 700.8,1336.8 698.4,1335.6 696,1334.4 693.7,1333 691.5,1331.6 689.3,1330 687.2,1328.4 685.1,1326.7 683.1,1324.9 681.2,1323 679.3,1321 677.4,1318.9 675.7,1316.7 673.9,1314.5 672.3,1312.2 670.7,1309.8 669.2,1307.3 667.8,1304.7 666.4,1302 665.1,1299.3 663.9,1296.5 662.7,1293.7 661.6,1290.7 660.6,1287.7 659.6,1284.7 658.8,1281.5 658,1278.3 657.2,1275.1 656.6,1271.8 656,1268.4 655.5,1265 655.1,1261.5 654.8,1258 654.5,1254.5 654.3,1250.8 654.2,1247.2 654.2,1243.5 654.2,1239.8 654.3,1236 654.5,1232.2 654.8,1228.4 655.2,1224.6 655.6,1220.7" fill="none" stroke="#000" stroke-width="1.56" stroke-linejoin="round" stroke-linecap="round"/>
<ellipse cx="773.7" cy="1186.7" rx="151" ry="94.3" transform="rotate(-63.3 773.7 1186.7)" fill="none" stroke="#000" stroke-width="1.56"/>
<ellipse cx="773.7" cy="1186.7" rx="133.5" ry="83.4" transform="rotate(-63.3 773.7 1186.7)" fill="none" stroke="#000" stroke-width="1.56"/>
<polyline points="625.3,1121.3 916,977.3" fill="none" stroke="#000" stroke-width="1.56" stroke-linejoin="round" stroke-linecap="round"/>
<polyline points="628,1130.7 924,988" fill="none" stroke="#000" stroke-width="1.56" stroke-linejoin="round" stroke-linecap="round"/>
<line x1="761.3" y1="1038.7" x2="764" y2="1049.3" stroke="#000" stroke-width="1.56" stroke-linecap="round"/>
<line x1="785.3" y1="1054.7" x2="788" y2="1065.3" stroke="#000" stroke-width="1.56" stroke-linecap="round"/>
<polyline points="589.3,1137.3 593.3,1131.3 606.7,1125.3 613.3,1128 618,1137.3 616.7,1146.7 600,1154 593.3,1151.3 589.3,1137.3" fill="none" stroke="#000" stroke-width="1.92" stroke-linejoin="round" stroke-linecap="round"/>
<ellipse cx="596" cy="1142.7" rx="5" ry="9" transform="rotate(25 596 1142.7)" fill="none" stroke="#000" stroke-width="3.12"/>
<ellipse cx="597" cy="1142" rx="2" ry="5" transform="rotate(25 597 1142)" fill="none" stroke="#000" stroke-width="1.44"/>
<polyline points="606.7,1125.3 612,1140 605.3,1146.7" fill="none" stroke="#000" stroke-width="1.56" stroke-linejoin="round" stroke-linecap="round"/>
<polyline points="612,1140 618,1137.3" fill="none" stroke="#000" stroke-width="1.44" stroke-linejoin="round" stroke-linecap="round"/>
<polyline points="613.3,1126 623.3,1120.7 630,1130.7 618,1140" fill="none" stroke="#000" stroke-width="1.56" stroke-linejoin="round" stroke-linecap="round"/>
<polyline points="921,969 933,955 947,953 955,964 953,978 940,985 928,983" fill="none" stroke="#000" stroke-width="1.7999999999999998" stroke-linejoin="round" stroke-linecap="round"/>
<line x1="934" y1="957" x2="943" y2="983" stroke="#000" stroke-width="1.44" stroke-linecap="round"/>
<ellipse cx="949" cy="967" rx="6" ry="10" transform="rotate(25 949 967)" fill="none" stroke="#000" stroke-width="1.68"/>
<line x1="918" y1="975" x2="924" y2="988" stroke="#000" stroke-width="1.7999999999999998" stroke-linecap="round"/>
<polyline points="955,968 962,963" fill="none" stroke="#000" stroke-width="1.2" stroke-dasharray="2,2" stroke-linejoin="round" stroke-linecap="round"/>
<polyline points="966,946 978,941 985,956 972,962 966,946" fill="none" stroke="#000" stroke-width="1.68" stroke-linejoin="round" stroke-linecap="round"/>
<ellipse cx="968" cy="954" rx="3.5" ry="6" transform="rotate(20 968 954)" fill="none" stroke="#000" stroke-width="1.56"/>
<polyline points="979,956 994,948" fill="none" stroke="#000" stroke-width="3.12" stroke-linejoin="round" stroke-linecap="round"/>
<ellipse cx="1012" cy="922" rx="45" ry="24" transform="rotate(8 1012 922)" fill="none" stroke="#000" stroke-width="2.4"/>
<ellipse cx="1010.7" cy="916.7" rx="45.3" ry="24.5" transform="rotate(8 1010.7 916.7)" fill="#fff" stroke="#000" stroke-width="2.4"/>
<ellipse cx="1012" cy="906" rx="18.5" ry="11" transform="rotate(8 1012 906)" fill="#fff" stroke="#000" stroke-width="1.92"/>
<ellipse cx="1011" cy="901" rx="14.5" ry="8" transform="rotate(8 1011 901)" fill="#fff" stroke="#000" stroke-width="1.92"/>
<line x1="1002" y1="906" x2="1019" y2="897" stroke="#000" stroke-width="2.88" stroke-linecap="round"/>
<polyline points="1047,895 1058,884 1072,883 1081,895 1080,914 1070,924 1056,924 1048,912" fill="none" stroke="#000" stroke-width="1.92" stroke-linejoin="round" stroke-linecap="round"/>
<ellipse cx="1056" cy="904" rx="6" ry="11" transform="rotate(10 1056 904)" fill="none" stroke="#000" stroke-width="1.7999999999999998"/>
<ellipse cx="1053" cy="906" rx="3" ry="7" transform="rotate(10 1053 906)" fill="none" stroke="#000" stroke-width="1.44"/>
<polyline points="1062,885 1066,923" fill="none" stroke="#000" stroke-width="1.2" stroke-linejoin="round" stroke-linecap="round"/>
<line x1="1051" y1="980" x2="1071" y2="980" stroke="#555" stroke-width="1.6"/>
<polyline points="1051,980 1017.3,926.7" fill="none" stroke="#000" stroke-width="1.2" stroke-linejoin="round" stroke-linecap="round"/>
<line x1="911" y1="1235.5" x2="931" y2="1235.5" stroke="#555" stroke-width="1.6"/>
<polyline points="911,1235.5 872,1192" fill="none" stroke="#000" stroke-width="1.2" stroke-linejoin="round" stroke-linecap="round"/>
<ellipse cx="276.5" cy="1176" rx="80" ry="44" transform="rotate(-65 276.5 1176)" fill="none" stroke="#000" stroke-width="1.92"/>
<polyline points="237,1180 262,1170" fill="none" stroke="#000" stroke-width="1.68" stroke-linejoin="round" stroke-linecap="round"/>
<polyline points="240,1209 268,1197" fill="none" stroke="#000" stroke-width="1.68" stroke-linejoin="round" stroke-linecap="round"/>
<ellipse cx="233" cy="1194.7" rx="10" ry="14.5" transform="rotate(15 233 1194.7)" fill="#fff" stroke="#000" stroke-width="2.04"/>
<line x1="242" y1="1181" x2="243" y2="1207" stroke="#000" stroke-width="1.56" stroke-linecap="round"/>
<line x1="245" y1="1180.5" x2="246" y2="1205.5" stroke="#000" stroke-width="1.56" stroke-linecap="round"/>
<line x1="248" y1="1180" x2="249" y2="1204" stroke="#000" stroke-width="1.56" stroke-linecap="round"/>
<line x1="251" y1="1179.5" x2="252" y2="1202.5" stroke="#000" stroke-width="1.56" stroke-linecap="round"/>
<line x1="254" y1="1179" x2="255" y2="1201" stroke="#000" stroke-width="1.56" stroke-linecap="round"/>
<path d="M262,1170 L263,1160 C266,1156 270,1156 272,1160 L278,1158 L287,1162 L288,1172 L291,1178 L289,1190 L285,1194 L285,1200 L270,1202 L268,1197" fill="none" stroke="#000" stroke-width="1.56" stroke-linejoin="round" stroke-linecap="round"/>
<ellipse cx="268" cy="1160" rx="3" ry="3" fill="none" stroke="#000" stroke-width="1.56"/>
<ellipse cx="284" cy="1194" rx="3" ry="3" fill="none" stroke="#000" stroke-width="1.56"/>
<circle cx="279" cy="1118.4" r="1.8" fill="#000"/>
<circle cx="279" cy="1136" r="1.8" fill="#000"/>
<circle cx="235.2" cy="1152" r="1.5" fill="#000"/>
<circle cx="273.3" cy="1218" r="1.8" fill="#000"/>
<circle cx="273.3" cy="1232.8" r="1.8" fill="#000"/>
<circle cx="288" cy="1225.5" r="1.3" fill="#000"/>
<circle cx="283" cy="1113" r="1.3" fill="#000"/>
<ellipse cx="286" cy="1213" rx="2.5" ry="3.5" fill="none" stroke="#000" stroke-width="1.56"/>
<path d="M311,1136 L331,1148 L333,1160 L312,1168" fill="none" stroke="#000" stroke-width="1.68" stroke-linejoin="round" stroke-linecap="round"/>
<ellipse cx="329" cy="1154" rx="3.5" ry="7" transform="rotate(15 329 1154)" fill="none" stroke="#000" stroke-width="2.64"/>
<ellipse cx="343" cy="1143" rx="5" ry="7" transform="rotate(25 343 1143)" fill="none" stroke="#000" stroke-width="1.92"/>
<polyline points="343,1136 356,1131 362,1138 359,1146 347,1150" fill="none" stroke="#000" stroke-width="1.7999999999999998" stroke-linejoin="round" stroke-linecap="round"/>
<line x1="350" y1="1134" x2="353" y2="1149" stroke="#000" stroke-width="1.44" stroke-linecap="round"/>
<polyline points="362,1138 368,1134" fill="none" stroke="#000" stroke-width="1.2" stroke-dasharray="2,2" stroke-linejoin="round" stroke-linecap="round"/>
<ellipse cx="376" cy="1126" rx="5" ry="7" transform="rotate(25 376 1126)" fill="none" stroke="#000" stroke-width="2.4"/>
<polyline points="375,1119 385,1115 390,1121 388,1130 379,1133" fill="none" stroke="#000" stroke-width="2.04" stroke-linejoin="round" stroke-linecap="round"/>
<path d="M388,1120 C396,1117 401,1120 399,1128 L368,1240 C366,1250 371,1257 381,1256 L405,1249" fill="none" stroke="#000" stroke-width="1.56" stroke-linejoin="round" stroke-linecap="round"/>
<path d="M389,1125 C394,1124 396,1126 394,1130 L363,1242 C360,1255 368,1263 383,1261 L407,1254" fill="none" stroke="#000" stroke-width="1.56" stroke-linejoin="round" stroke-linecap="round"/>
<polyline points="405,1245 415,1241 421,1247 419,1257 409,1261 404,1256 405,1245" fill="none" stroke="#000" stroke-width="1.92" stroke-linejoin="round" stroke-linecap="round"/>
<ellipse cx="412" cy="1251" rx="3" ry="4" fill="none" stroke="#000" stroke-width="1.56"/>
<polyline points="421,1247 436,1238" fill="none" stroke="#000" stroke-width="1.44" stroke-dasharray="3,2" stroke-linejoin="round" stroke-linecap="round"/>
<polyline points="414.7,1199.3 437.3,1184 461.3,1198 440,1214 414.7,1199.3" fill="none" stroke="#000" stroke-width="1.7999999999999998" stroke-linejoin="round" stroke-linecap="round"/>
<polyline points="414.7,1199.3 412,1210 418,1214" fill="none" stroke="#000" stroke-width="1.7999999999999998" stroke-linejoin="round" stroke-linecap="round"/>
<polyline points="440,1214 442,1226" fill="none" stroke="#000" stroke-width="1.68" stroke-linejoin="round" stroke-linecap="round"/>
<polyline points="417,1204 437,1192 456,1203" fill="none" stroke="#000" stroke-width="1.2" stroke-linejoin="round" stroke-linecap="round"/>
<ellipse cx="416" cy="1222" rx="4" ry="3" fill="none" stroke="#000" stroke-width="2.64"/>
<ellipse cx="430" cy="1224" rx="4" ry="4" fill="none" stroke="#000" stroke-width="2.4"/>
<path d="M438,1230 C436,1224 442,1219 449,1222 C454,1226 452,1234 446,1236 C442,1237 439,1234 438,1230 Z" fill="#111"/>
<ellipse cx="449" cy="1213" rx="5" ry="6" fill="none" stroke="#000" stroke-width="2.88"/>
<ellipse cx="460" cy="1211" rx="5" ry="7" fill="none" stroke="#000" stroke-width="3.12"/>
<ellipse cx="470" cy="1208" rx="4" ry="6" fill="none" stroke="#000" stroke-width="2.64"/>
<polyline points="452,1203 470,1198 476,1208 470,1222 452,1228" fill="none" stroke="#000" stroke-width="1.68" stroke-linejoin="round" stroke-linecap="round"/>
<polyline points="442,1228 458,1238" fill="none" stroke="#000" stroke-width="1.68" stroke-linejoin="round" stroke-linecap="round"/>
<ellipse cx="483" cy="1203" rx="2.5" ry="4" transform="rotate(20 483 1203)" fill="none" stroke="#333" stroke-width="2.4"/>
<polyline points="471,1156 485,1151 497,1160 510,1176 500,1186 480,1180 471,1170 471,1156" fill="none" stroke="#000" stroke-width="1.7999999999999998" stroke-linejoin="round" stroke-linecap="round"/>
<ellipse cx="473" cy="1163" rx="4.5" ry="7" transform="rotate(20 473 1163)" fill="none" stroke="#000" stroke-width="2.4"/>
<polyline points="470,1157 478,1152" fill="none" stroke="#000" stroke-width="3.5999999999999996" stroke-linejoin="round" stroke-linecap="round"/>
<polyline points="519,1176 536,1167 545,1168 548,1178 545,1188 530,1195" fill="none" stroke="#000" stroke-width="1.68" stroke-linejoin="round" stroke-linecap="round"/>
<polyline points="510,1180 519,1176" fill="none" stroke="#000" stroke-width="1.68" stroke-linejoin="round" stroke-linecap="round"/>
<ellipse cx="498" cy="1199" rx="5" ry="7.5" transform="rotate(20 498 1199)" fill="none" stroke="#000" stroke-width="1.68"/>
<ellipse cx="496" cy="1199" rx="3" ry="4.5" transform="rotate(20 496 1199)" fill="none" stroke="#000" stroke-width="2.64"/>
<polyline points="500,1191 515,1187 518,1196 515,1205 502,1207" fill="none" stroke="#000" stroke-width="1.68" stroke-linejoin="round" stroke-linecap="round"/>
<polyline points="522,1188 532,1185 548,1198 556,1205 552,1213 544,1210 528,1206 520,1198 522,1188" fill="none" stroke="#000" stroke-width="1.7999999999999998" stroke-linejoin="round" stroke-linecap="round"/>
<polyline points="528,1190 536,1205" fill="none" stroke="#000" stroke-width="2.88" stroke-linejoin="round" stroke-linecap="round"/>
<polyline points="533,1189 540,1203" fill="none" stroke="#000" stroke-width="2.4" stroke-linejoin="round" stroke-linecap="round"/>
<ellipse cx="555" cy="1210" rx="2.5" ry="4" transform="rotate(30 555 1210)" fill="none" stroke="#000" stroke-width="1.56"/>
<polyline points="549,1162 560,1152 572,1150 578,1160 575,1170 560,1175 553,1172" fill="none" stroke="#000" stroke-width="1.7999999999999998" stroke-linejoin="round" stroke-linecap="round"/>
<polyline points="551,1160 557,1172" fill="none" stroke="#000" stroke-width="3.36" stroke-linejoin="round" stroke-linecap="round"/>
<polyline points="556,1157 562,1171" fill="none" stroke="#000" stroke-width="2.64" stroke-linejoin="round" stroke-linecap="round"/>
<ellipse cx="574" cy="1160" rx="5" ry="9" transform="rotate(20 574 1160)" fill="none" stroke="#000" stroke-width="1.56"/>
<polyline points="580,1158 590,1150" fill="none" stroke="#000" stroke-width="1.2" stroke-dasharray="2,2" stroke-linejoin="round" stroke-linecap="round"/>
<line x1="538" y1="986.5" x2="714" y2="986.5" stroke="#999" stroke-width="2"/>
<line x1="536.8" y1="985.3" x2="387" y2="1116" stroke="#000" stroke-width="1.32" stroke-linecap="round"/>
<line x1="536.8" y1="985.3" x2="445" y2="1287" stroke="#000" stroke-width="1.32" stroke-linecap="round"/>
<line x1="536.8" y1="985.3" x2="462" y2="1228" stroke="#000" stroke-width="1.32" stroke-linecap="round"/>
<line x1="536.8" y1="985.3" x2="504" y2="1186" stroke="#000" stroke-width="1.32" stroke-linecap="round"/>
<line x1="536.8" y1="985.3" x2="561" y2="1159" stroke="#000" stroke-width="1.32" stroke-linecap="round"/>
<line x1="304" y1="1036.3" x2="315" y2="1036.3" stroke="#555" stroke-width="1.6"/>
<polyline points="304,1036.3 277.7,1115.5" fill="none" stroke="#000" stroke-width="1.2" stroke-linejoin="round" stroke-linecap="round"/>
<line x1="341" y1="1036.3" x2="363" y2="1036.3" stroke="#555" stroke-width="1.6"/>
<polyline points="341,1036.3 326,1142" fill="none" stroke="#000" stroke-width="1.2" stroke-linejoin="round" stroke-linecap="round"/>
<line x1="378" y1="1036.3" x2="399" y2="1036.3" stroke="#555" stroke-width="1.6"/>
<polyline points="378,1036.3 352.5,1133" fill="none" stroke="#000" stroke-width="1.2" stroke-linejoin="round" stroke-linecap="round"/>
<line x1="343" y1="1293.5" x2="364" y2="1293.5" stroke="#555" stroke-width="1.6"/>
<polyline points="364,1293.5 381.9,1262" fill="none" stroke="#000" stroke-width="1.2" stroke-linejoin="round" stroke-linecap="round"/>
<line x1="423" y1="1293.5" x2="444" y2="1293.5" stroke="#555" stroke-width="1.6"/>
<polyline points="444,1293.5 462,1228" fill="none" stroke="#000" stroke-width="1.2" stroke-linejoin="round" stroke-linecap="round"/>
<line x1="504" y1="1266.5" x2="526" y2="1266.5" stroke="#555" stroke-width="1.6"/>
<polyline points="504,1266.5 482,1204" fill="none" stroke="#000" stroke-width="1.2" stroke-linejoin="round" stroke-linecap="round"/>
<line x1="553" y1="1266.5" x2="574" y2="1266.5" stroke="#555" stroke-width="1.6"/>
<polyline points="553.5,1266.5 534.4,1203.5" fill="none" stroke="#000" stroke-width="1.2" stroke-linejoin="round" stroke-linecap="round"/>
<line x1="593" y1="1218" x2="614" y2="1218" stroke="#555" stroke-width="1.6"/>
<polyline points="593,1218 572.5,1165" fill="none" stroke="#000" stroke-width="1.2" stroke-linejoin="round" stroke-linecap="round"/>
<rect x="258.7" y="757.2" width="15.6" height="15.6" rx="1.5" fill="none" stroke="#222" stroke-width="2"/>
<line x1="115" y1="1345.5" x2="121" y2="1345.5" stroke="#555" stroke-width="1.2" stroke-linecap="round"/>
</g>
<g font-family="Liberation Serif" font-weight="bold" fill="#000" stroke="#000" stroke-width="0.35">
<text transform="translate(161 73.5) scale(1.07 1)" font-size="18">36</text>
<text transform="translate(309 34.5) scale(1.07 1)" font-size="18">43</text>
<text transform="translate(289.5 78) scale(1.07 1)" font-size="18">8</text>
<text transform="translate(325 83) scale(1.07 1)" font-size="18">1</text>
<text transform="translate(360 83) scale(1.07 1)" font-size="18">28</text>
<text transform="translate(474 56.5) scale(1.07 1)" font-size="18">29</text>
<text transform="translate(591 223.5) scale(1.07 1)" font-size="18">36</text>
<text transform="translate(772 313) scale(1.07 1)" font-size="18">20.3</text>
<text transform="translate(821 311) scale(1.07 1)" font-size="18">38</text>
<text transform="translate(851 313) scale(1.07 1)" font-size="18">10</text>
<text transform="translate(880 313) scale(1.07 1)" font-size="18">22</text>
<text transform="translate(912 314) scale(1.07 1)" font-size="18">30</text>
<text transform="translate(939 311) scale(1.07 1)" font-size="18">20.1</text>
<text transform="translate(899 497.5) scale(1.07 1)" font-size="18">42</text>
<text transform="translate(898 525) scale(1.07 1)" font-size="18">35</text>
<text transform="translate(440 691) scale(1.07 1)" font-size="18">40</text>
<text transform="translate(490 691) scale(1.07 1)" font-size="18">19</text>
<text transform="translate(541 691) scale(1.07 1)" font-size="18">21</text>
<text transform="translate(594 691) scale(1.07 1)" font-size="18">4</text>
<text transform="translate(632 691) scale(1.07 1)" font-size="18">38</text>
<text transform="translate(675 691) scale(1.07 1)" font-size="18">6</text>
<text transform="translate(706.5 691) scale(1.07 1)" font-size="18">30</text>
<text transform="translate(740 691) scale(1.07 1)" font-size="18">5</text>
<text transform="translate(860 755) scale(1.07 1)" font-size="18">31</text>
<text transform="translate(891 755) scale(1.07 1)" font-size="18">41</text>
<text transform="translate(1040 510) scale(1.07 1)" font-size="18">25</text>
<text transform="translate(1088 510) scale(1.07 1)" font-size="18">24</text>
<text transform="translate(1005 579) scale(1.07 1)" font-size="18">48</text>
<text transform="translate(1038 580) scale(1.07 1)" font-size="18">23</text>
<text transform="translate(1204 662) scale(1.07 1)" font-size="18">44</text>
<text transform="translate(1320 808) scale(1.07 1)" font-size="18">29</text>
<text transform="translate(1322 853) scale(1.07 1)" font-size="18">3</text>
<text transform="translate(1109 859.5) scale(1.07 1)" font-size="18">30</text>
<text transform="translate(1280 903) scale(1.07 1)" font-size="18">30</text>
<text transform="translate(1052 974) scale(1.07 1)" font-size="18">32</text>
<text transform="translate(911 1231) scale(1.07 1)" font-size="18">33</text>
<text x="538" y="983.5" font-size="11.2" font-family="Liberation Sans" font-weight="bold" fill="#1a1a2a" textLength="176" lengthAdjust="spacingAndGlyphs">Места для нанесения герметика</text>
<text transform="translate(305 1030) scale(1.07 1)" font-size="18">2</text>
<text transform="translate(342 1030) scale(1.07 1)" font-size="18">39</text>
<text transform="translate(379 1029) scale(1.07 1)" font-size="18">16</text>
<text transform="translate(344 1289) scale(1.07 1)" font-size="18">15</text>
<text transform="translate(423 1289) scale(1.07 1)" font-size="18">14</text>
<text transform="translate(505 1262) scale(1.07 1)" font-size="18">34</text>
<text transform="translate(553 1262) scale(1.07 1)" font-size="18">13</text>
<text transform="translate(593 1212) scale(1.07 1)" font-size="18">17</text>
</g>
</svg>

<div id="hr"></div>
<div id="title"><span id="t1">ТПГ-10000_М2.</span><span id="t2">Схема 1-1 (Схема-состав. Пушка газовая)</span></div>
</body></html>
